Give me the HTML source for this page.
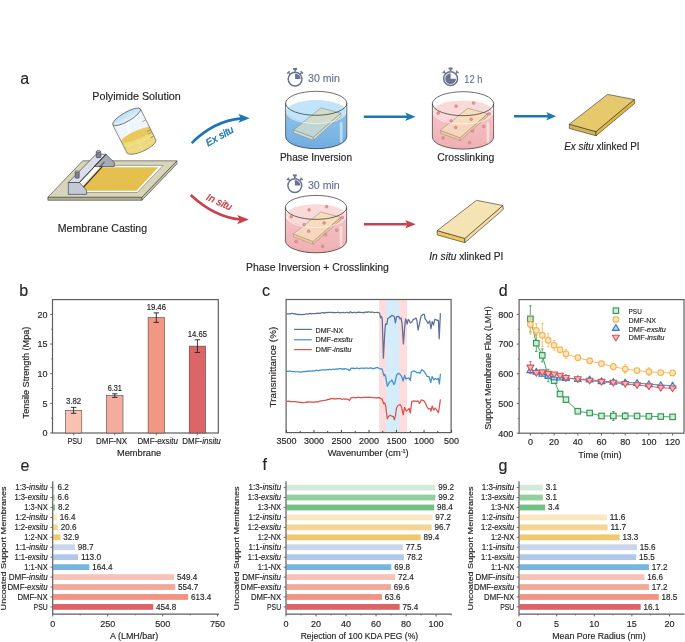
<!DOCTYPE html><html><head><meta charset="utf-8"><title>Figure</title><style>html,body{margin:0;padding:0;background:#fff;width:685px;height:642px;overflow:hidden}svg{display:block;will-change:transform}text{font-family:"Liberation Sans",sans-serif}</style></head><body>
<svg width="685" height="642" viewBox="0 0 685 642">
<rect width="685" height="642" fill="#fff"/>
<text x="20.30" y="83.60" font-size="16" text-anchor="start" fill="#262626" stroke="#262626" stroke-width="0.16" >a</text>
<text x="19.30" y="295.80" font-size="16" text-anchor="start" fill="#262626" stroke="#262626" stroke-width="0.16" >b</text>
<text x="262.00" y="296.00" font-size="16" text-anchor="start" fill="#262626" stroke="#262626" stroke-width="0.16" >c</text>
<text x="498.80" y="296.00" font-size="16" text-anchor="start" fill="#262626" stroke="#262626" stroke-width="0.16" >d</text>
<text x="20.50" y="470.80" font-size="16" text-anchor="start" fill="#262626" stroke="#262626" stroke-width="0.16" >e</text>
<text x="262.50" y="470.20" font-size="16" text-anchor="start" fill="#262626" stroke="#262626" stroke-width="0.16" >f</text>
<text x="498.60" y="470.50" font-size="16" text-anchor="start" fill="#262626" stroke="#262626" stroke-width="0.16" >g</text>
<g stroke="#3a3a3a" stroke-width="0.6" stroke-linejoin="round">
<polygon points="47.9,197.2 141.9,197.2 141.9,200.3 47.9,200.3" fill="#b3af92"/>
<polygon points="141.9,197.2 176.9,160.8 176.9,163.9 141.9,200.3" fill="#c4c0a3"/>
<polygon points="82.7,160.8 176.9,160.8 141.9,197.2 47.9,197.2" fill="#d8d5ba"/>
</g>
<polygon points="96,165.4 163.1,165.4 137.3,192.5 70,192.5" fill="#ffffff" stroke="#4a4a4a" stroke-width="0.45"/>
<polygon points="100.4,167.3 158.3,167.3 136.4,190.8 78.8,190.8" fill="#e6c04f"/>
<polygon points="79.4,182.5 106.0,154.3 106.6,161.2 81.6,188.7" fill="#ffffff"/>
<line x1="81.8" y1="187.2" x2="106.0" y2="160.8" stroke="#e6c04f" stroke-width="0.8"/>
<line x1="81.9" y1="188.9" x2="106.6" y2="161.9" stroke="#2e2e2e" stroke-width="1.25"/>
<g stroke="#2e2e2e" stroke-width="0.6" stroke-linejoin="round">
<polygon points="68.3,182.5 96.0,154.3 106.0,154.3 79.4,182.5" fill="#dcdfe9"/>
<polygon points="106.0,154.3 114.3,162.5 114.3,166.5 93.9,166.5" fill="#a6aab6"/>
<polygon points="68.3,182.5 79.4,182.5 86.6,190.3 86.6,194.4 68.3,194.4" fill="#c5c9d7"/>
</g>
<line x1="79.4" y1="182.5" x2="106.0" y2="154.3" stroke="#2e2e2e" stroke-width="0.95"/>
<line x1="99.5" y1="167.2" x2="104.6" y2="161.8" stroke="#3a3a3a" stroke-width="1.0"/>
<rect x="96.20" y="151.20" width="4.6" height="6.50" fill="#7b8191" stroke="#2e2e2e" stroke-width="0.5" rx="1.0"/>
<ellipse cx="98.5" cy="151.50" rx="2.20" ry="0.9" fill="#b3b8c5" stroke="#2e2e2e" stroke-width="0.4"/>
<rect x="75.15" y="171.40" width="4.1" height="6.80" fill="#7b8191" stroke="#2e2e2e" stroke-width="0.5" rx="1.0"/>
<ellipse cx="77.2" cy="171.70" rx="1.95" ry="0.9" fill="#b3b8c5" stroke="#2e2e2e" stroke-width="0.4"/>
<defs><clipPath id="bkc"><path d="M112.8,125.0 L127.1,153.1 C131,157.6 154.5,148.5 156.0,140.3 L140.4,108.7 Z"/></clipPath><linearGradient id="rimg" x1="0" y1="0" x2="0" y2="1"><stop offset="0" stop-color="#bcdcf2"/><stop offset="1" stop-color="#e4f1fa"/></linearGradient></defs>
<path d="M112.8,125.0 L127.1,153.1 C131,157.6 154.5,148.5 156.0,140.3 L140.4,108.7 Z" fill="#eef6fc"/>
<g clip-path="url(#bkc)">
<path d="M126.5,120 L133,152" stroke="#ffffff" stroke-width="3" opacity="0.8"/>
<g transform="translate(137.6,134.6) rotate(-23.5)">
<rect x="-25" y="0" width="50" height="30" fill="#eed87c"/>
<ellipse cx="0" cy="0" rx="17.5" ry="4.3" fill="#e8c95c"/>
<path d="M-17,4.5 A17.5,4.3 0 0 0 17,4.5" fill="none" stroke="#f5e6a6" stroke-width="0.7"/>
<path d="M-17,10 A17.5,4.3 0 0 0 17,10" fill="none" stroke="#f3e19c" stroke-width="0.6" opacity="0.8"/>
<path d="M-2,4.3 L-2,30" stroke="#f3e3a0" stroke-width="1.6" opacity="0.5"/>
</g>
</g>
<path d="M112.8,125.0 L127.1,153.1 C131,157.6 154.5,148.5 156.0,140.3 L140.4,108.7" fill="none" stroke="#3d3d3d" stroke-width="0.6"/>
<ellipse cx="126.6" cy="116.85" rx="15.9" ry="4.5" transform="rotate(-30 126.6 116.85)" fill="url(#rimg)" stroke="#3d3d3d" stroke-width="0.6"/>
<line x1="145.25" y1="120.11" x2="142.40" y2="121.76" stroke="#555" stroke-width="0.55"/>
<line x1="150.09" y1="129.91" x2="147.23" y2="131.56" stroke="#555" stroke-width="0.55"/>
<line x1="151.34" y1="132.43" x2="148.48" y2="134.08" stroke="#555" stroke-width="0.55"/>
<line x1="153.21" y1="136.23" x2="150.35" y2="137.88" stroke="#555" stroke-width="0.55"/>
<defs><linearGradient id="gblue316103" x1="0" y1="0" x2="0" y2="1"><stop offset="0" stop-color="#8cc3ea"/><stop offset="1" stop-color="#6aa6dc"/></linearGradient></defs>
<path d="M285.90,111.30 L285.90,136.70 A30.3,12 0 0 0 346.50,136.70 L346.50,111.30 Z" fill="url(#gblue316103)"/>
<ellipse cx="316.2" cy="111.30" rx="30.200000000000003" ry="11.2" fill="#c2e4f8"/>
<path d="M285.90,133.70 A30.3,12 0 0 0 346.50,133.70 L346.50,136.70 A30.3,12 0 0 1 285.90,136.70 Z" fill="#6aa6dc" opacity="0.9"/>
<polygon points="293.6,129.9 313.3,137.3 313.3,140.2 293.6,132.8" fill="#ece4bd" stroke="#555" stroke-width="0.35"/>
<polygon points="313.3,137.3 340.8,113.2 340.8,116.1 313.3,140.2" fill="#ece4bd" stroke="#555" stroke-width="0.35"/>
<polygon points="321.0,107.9 340.8,113.2 313.3,137.3 293.6,129.9" fill="#d3dbca" stroke="#555" stroke-width="0.35"/>
<path d="M285.90,111.30 A30.200000000000003,11.2 0 0 0 346.50,111.30 L346.50,136.70 A30.3,12 0 0 1 285.90,136.70 Z" fill="#8cc3ea" opacity="0.25"/>
<path d="M286.60,112.30 A29.6,11.2 0 0 0 345.80,112.30" fill="none" stroke="#fff" stroke-width="0.8" opacity="0.8"/>
<line x1="341.2" y1="123.3" x2="341.2" y2="141.2" stroke="#fff" stroke-width="2.8" opacity="0.5" stroke-linecap="round"/>
<path d="M285.60,103.30 L285.60,136.70 A30.6,12 0 0 0 346.80,136.70 L346.80,103.30" fill="none" stroke="#2e2e2e" stroke-width="0.7"/>
<ellipse cx="316.2" cy="103.3" rx="30.6" ry="12" fill="none" stroke="#2e2e2e" stroke-width="0.7"/>
<defs><linearGradient id="gpink463103" x1="0" y1="0" x2="0" y2="1"><stop offset="0" stop-color="#f5c3c5"/><stop offset="1" stop-color="#eeaaae"/></linearGradient></defs>
<path d="M432.70,111.70 L432.70,137.10 A30.3,12 0 0 0 493.30,137.10 L493.30,111.70 Z" fill="url(#gpink463103)"/>
<ellipse cx="463.0" cy="111.70" rx="30.200000000000003" ry="11.2" fill="#fad9d9"/>
<path d="M432.70,134.10 A30.3,12 0 0 0 493.30,134.10 L493.30,137.10 A30.3,12 0 0 1 432.70,137.10 Z" fill="#eeaaae" opacity="0.9"/>
<polygon points="440.4,130.3 460.1,137.7 460.1,140.6 440.4,133.2" fill="#efc88e" stroke="#555" stroke-width="0.35"/>
<polygon points="460.1,137.7 487.6,113.6 487.6,116.5 460.1,140.6" fill="#efc88e" stroke="#555" stroke-width="0.35"/>
<polygon points="467.8,108.3 487.6,113.6 460.1,137.7 440.4,130.3" fill="#f8ddbd" stroke="#555" stroke-width="0.35"/>
<path d="M432.70,111.70 A30.200000000000003,11.2 0 0 0 493.30,111.70 L493.30,137.10 A30.3,12 0 0 1 432.70,137.10 Z" fill="#f5c3c5" opacity="0.25"/>
<path d="M433.40,112.70 A29.6,11.2 0 0 0 492.60,112.70" fill="none" stroke="#fff" stroke-width="0.8" opacity="0.8"/>
<line x1="488.0" y1="123.7" x2="488.0" y2="141.6" stroke="#fff" stroke-width="2.8" opacity="0.5" stroke-linecap="round"/>
<circle cx="456.1" cy="106.2" r="1.4" fill="#e49b9b" stroke="#c76a6c" stroke-width="0.45"/>
<circle cx="473.6" cy="103.0" r="1.4" fill="#e49b9b" stroke="#c76a6c" stroke-width="0.45"/>
<circle cx="438.2" cy="113.2" r="1.4" fill="#e49b9b" stroke="#c76a6c" stroke-width="0.45"/>
<circle cx="489.3" cy="113.9" r="1.4" fill="#e49b9b" stroke="#c76a6c" stroke-width="0.45"/>
<circle cx="451.1" cy="120.9" r="1.4" fill="#e49b9b" stroke="#c76a6c" stroke-width="0.45"/>
<circle cx="471.1" cy="119.3" r="1.4" fill="#e49b9b" stroke="#c76a6c" stroke-width="0.45"/>
<circle cx="455.7" cy="127.5" r="1.4" fill="#e49b9b" stroke="#c76a6c" stroke-width="0.45"/>
<circle cx="483.7" cy="126.5" r="1.4" fill="#e49b9b" stroke="#c76a6c" stroke-width="0.45"/>
<circle cx="472.5" cy="131.0" r="1.4" fill="#e49b9b" stroke="#c76a6c" stroke-width="0.45"/>
<circle cx="443.1" cy="138.0" r="1.4" fill="#e49b9b" stroke="#c76a6c" stroke-width="0.45"/>
<circle cx="469.7" cy="142.6" r="1.4" fill="#e49b9b" stroke="#c76a6c" stroke-width="0.45"/>
<path d="M432.40,103.70 L432.40,137.10 A30.6,12 0 0 0 493.60,137.10 L493.60,103.70" fill="none" stroke="#2e2e2e" stroke-width="0.7"/>
<ellipse cx="463.0" cy="103.7" rx="30.6" ry="12" fill="none" stroke="#2e2e2e" stroke-width="0.7"/>
<defs><linearGradient id="gpink316207" x1="0" y1="0" x2="0" y2="1"><stop offset="0" stop-color="#f5c3c5"/><stop offset="1" stop-color="#eeaaae"/></linearGradient></defs>
<path d="M285.70,215.40 L285.70,240.80 A30.3,12 0 0 0 346.30,240.80 L346.30,215.40 Z" fill="url(#gpink316207)"/>
<ellipse cx="316.0" cy="215.40" rx="30.200000000000003" ry="11.2" fill="#fad9d9"/>
<path d="M285.70,237.80 A30.3,12 0 0 0 346.30,237.80 L346.30,240.80 A30.3,12 0 0 1 285.70,240.80 Z" fill="#eeaaae" opacity="0.9"/>
<polygon points="293.4,234.0 313.1,241.4 313.1,244.3 293.4,236.9" fill="#efc88e" stroke="#555" stroke-width="0.35"/>
<polygon points="313.1,241.4 340.6,217.3 340.6,220.2 313.1,244.3" fill="#efc88e" stroke="#555" stroke-width="0.35"/>
<polygon points="320.8,212.0 340.6,217.3 313.1,241.4 293.4,234.0" fill="#f8ddbd" stroke="#555" stroke-width="0.35"/>
<path d="M285.70,215.40 A30.200000000000003,11.2 0 0 0 346.30,215.40 L346.30,240.80 A30.3,12 0 0 1 285.70,240.80 Z" fill="#f5c3c5" opacity="0.25"/>
<path d="M286.40,216.40 A29.6,11.2 0 0 0 345.60,216.40" fill="none" stroke="#fff" stroke-width="0.8" opacity="0.8"/>
<line x1="341.0" y1="227.4" x2="341.0" y2="245.3" stroke="#fff" stroke-width="2.8" opacity="0.5" stroke-linecap="round"/>
<circle cx="309.1" cy="209.9" r="1.4" fill="#e49b9b" stroke="#c76a6c" stroke-width="0.45"/>
<circle cx="326.6" cy="206.7" r="1.4" fill="#e49b9b" stroke="#c76a6c" stroke-width="0.45"/>
<circle cx="291.2" cy="216.9" r="1.4" fill="#e49b9b" stroke="#c76a6c" stroke-width="0.45"/>
<circle cx="342.3" cy="217.6" r="1.4" fill="#e49b9b" stroke="#c76a6c" stroke-width="0.45"/>
<circle cx="304.1" cy="224.6" r="1.4" fill="#e49b9b" stroke="#c76a6c" stroke-width="0.45"/>
<circle cx="324.1" cy="223.0" r="1.4" fill="#e49b9b" stroke="#c76a6c" stroke-width="0.45"/>
<circle cx="308.7" cy="231.2" r="1.4" fill="#e49b9b" stroke="#c76a6c" stroke-width="0.45"/>
<circle cx="336.7" cy="230.2" r="1.4" fill="#e49b9b" stroke="#c76a6c" stroke-width="0.45"/>
<circle cx="325.5" cy="234.7" r="1.4" fill="#e49b9b" stroke="#c76a6c" stroke-width="0.45"/>
<circle cx="296.1" cy="241.7" r="1.4" fill="#e49b9b" stroke="#c76a6c" stroke-width="0.45"/>
<circle cx="322.7" cy="246.3" r="1.4" fill="#e49b9b" stroke="#c76a6c" stroke-width="0.45"/>
<path d="M285.40,207.40 L285.40,240.80 A30.6,12 0 0 0 346.60,240.80 L346.60,207.40" fill="none" stroke="#2e2e2e" stroke-width="0.7"/>
<ellipse cx="316.0" cy="207.4" rx="30.6" ry="12" fill="none" stroke="#2e2e2e" stroke-width="0.7"/>
<g>
<circle cx="295.1" cy="79.1" r="6.9" fill="none" stroke="#69738f" stroke-width="1.5"/>
<path d="M295.1,79.1 L295.1,73.6 A5.5,5.5 0 0 1 300.6,79.1 Z" fill="#69738f"/>
<rect x="293.1" y="67.89999999999999" width="4.0" height="2.0" fill="#69738f"/>
<rect x="294.3" y="69.5" width="1.6" height="2.2" fill="#69738f"/>
<line x1="290.20000000000005" y1="74.19999999999999" x2="288.3" y2="72.3" stroke="#69738f" stroke-width="1.4"/>
<line x1="289.5" y1="71.1" x2="287.1" y2="73.5" stroke="#69738f" stroke-width="1.2"/>
<line x1="300.0" y1="74.19999999999999" x2="301.90000000000003" y2="72.3" stroke="#69738f" stroke-width="1.4"/>
<line x1="300.70000000000005" y1="71.1" x2="303.1" y2="73.5" stroke="#69738f" stroke-width="1.2"/>
</g>
<g>
<circle cx="294.8" cy="185.6" r="6.9" fill="none" stroke="#69738f" stroke-width="1.5"/>
<path d="M294.8,185.6 L294.8,180.1 A5.5,5.5 0 0 1 300.3,185.6 Z" fill="#69738f"/>
<rect x="292.8" y="174.4" width="4.0" height="2.0" fill="#69738f"/>
<rect x="294.0" y="176.0" width="1.6" height="2.2" fill="#69738f"/>
<line x1="289.90000000000003" y1="180.7" x2="288.0" y2="178.79999999999998" stroke="#69738f" stroke-width="1.4"/>
<line x1="289.2" y1="177.6" x2="286.8" y2="180.0" stroke="#69738f" stroke-width="1.2"/>
<line x1="299.7" y1="180.7" x2="301.6" y2="178.79999999999998" stroke="#69738f" stroke-width="1.4"/>
<line x1="300.40000000000003" y1="177.6" x2="302.8" y2="180.0" stroke="#69738f" stroke-width="1.2"/>
</g>
<g>
<circle cx="450.6" cy="78.7" r="6.9" fill="none" stroke="#69738f" stroke-width="1.5"/>
<path d="M450.6,78.7 L456.0,78.7 A5.4,5.4 0 1 1 450.6,73.3 Z" fill="#69738f"/>
<rect x="448.6" y="67.5" width="4.0" height="2.0" fill="#69738f"/>
<rect x="449.8" y="69.10000000000001" width="1.6" height="2.2" fill="#69738f"/>
<line x1="445.70000000000005" y1="73.8" x2="443.8" y2="71.9" stroke="#69738f" stroke-width="1.4"/>
<line x1="445.0" y1="70.7" x2="442.6" y2="73.10000000000001" stroke="#69738f" stroke-width="1.2"/>
<line x1="455.5" y1="73.8" x2="457.40000000000003" y2="71.9" stroke="#69738f" stroke-width="1.4"/>
<line x1="456.20000000000005" y1="70.7" x2="458.6" y2="73.10000000000001" stroke="#69738f" stroke-width="1.2"/>
</g>
<text x="308.00" y="82.00" font-size="10.7" text-anchor="start" fill="#69738f" stroke="#69738f" stroke-width="0.16" textLength="31.9" lengthAdjust="spacingAndGlyphs" >30 min</text>
<text x="307.90" y="188.50" font-size="10.7" text-anchor="start" fill="#69738f" stroke="#69738f" stroke-width="0.16" textLength="31.9" lengthAdjust="spacingAndGlyphs" >30 min</text>
<text x="464.30" y="82.60" font-size="10.7" text-anchor="start" fill="#69738f" stroke="#69738f" stroke-width="0.16" textLength="18.0" lengthAdjust="spacingAndGlyphs" >12 h</text>
<g stroke="#2e2e2e" stroke-width="0.6" stroke-linejoin="round">
<polygon points="569.3,124.2 596.0,131.6 596.0,135.79999999999998 569.3,128.4" fill="#d6b456"/>
<polygon points="596.0,131.6 634.3,99.5 634.9,103.28 596.0,135.79999999999998" fill="#e0b540"/>
<polygon points="569.3,124.2 607.6,94.4 634.3,99.5 596.0,131.6" fill="#e6c96c"/>
</g>
<g stroke="#2e2e2e" stroke-width="0.6" stroke-linejoin="round">
<polygon points="437.2,230.6 464.8,238.4 464.8,242.70000000000002 437.2,234.9" fill="#efc65c"/>
<polygon points="464.8,238.4 502.8,205.5 503.40000000000003,209.37 464.8,242.70000000000002" fill="#f3dc9e"/>
<polygon points="437.2,230.6 476.5,200.3 502.8,205.5 464.8,238.4" fill="#f6e3b3"/>
</g>
<path d="M191.7,143.1 Q213.6,121.0 241.5,118.4" fill="none" stroke="#1f76b6" stroke-width="2.6"/>
<polygon points="249.8,118.3 238.4,113.8 240.9,118.3 238.4,122.8" fill="#1f76b6"/>
<path d="M190.7,195.0 Q214.6,217.2 240.5,219.5" fill="none" stroke="#c8414b" stroke-width="2.6"/>
<polygon points="248.9,219.6 237.2,214.9 239.8,219.6 237.2,224.29999999999998" fill="#c8414b"/>
<line x1="363.8" y1="116.7" x2="409" y2="116.7" stroke="#1f76b6" stroke-width="2.6"/>
<polygon points="415.5,116.7 405.2,112.4 407.5,116.7 405.2,121.0" fill="#1f76b6"/>
<line x1="514" y1="116.2" x2="549.5" y2="116.2" stroke="#1f76b6" stroke-width="2.6"/>
<polygon points="556.1,116.2 546.3,111.9 548.5,116.2 546.3,120.5" fill="#1f76b6"/>
<line x1="363.9" y1="224.3" x2="409" y2="224.3" stroke="#c8414b" stroke-width="2.6"/>
<polygon points="415.7,224.3 405.2,220.0 407.5,224.3 405.2,228.60000000000002" fill="#c8414b"/>
<text x="0" y="0" font-size="10.1" font-style="italic" fill="#1f76b6" stroke="#1f76b6" stroke-width="0.42" transform="translate(208.0,146.4) rotate(-29)">Ex situ</text>
<text x="0" y="0" font-size="10.1" font-style="italic" fill="#c8414b" stroke="#c8414b" stroke-width="0.42" transform="translate(205.6,199.4) rotate(24.5)">In situ</text>
<text x="92.30" y="100.30" font-size="10.2" text-anchor="start" fill="#262626" stroke="#262626" stroke-width="0.16" textLength="88.5" lengthAdjust="spacingAndGlyphs" >Polyimide Solution</text>
<text x="57.80" y="231.90" font-size="10.2" text-anchor="start" fill="#262626" stroke="#262626" stroke-width="0.16" textLength="89.3" lengthAdjust="spacingAndGlyphs" >Membrane Casting</text>
<text x="279.90" y="161.00" font-size="10.0" text-anchor="start" fill="#262626" stroke="#262626" stroke-width="0.16" textLength="72.1" lengthAdjust="spacingAndGlyphs" >Phase Inversion</text>
<text x="437.30" y="160.90" font-size="10.0" text-anchor="start" fill="#262626" stroke="#262626" stroke-width="0.16" textLength="57.1" lengthAdjust="spacingAndGlyphs" >Crosslinking</text>
<text x="246.00" y="271.40" font-size="10.0" text-anchor="start" fill="#262626" stroke="#262626" stroke-width="0.16" textLength="142.9" lengthAdjust="spacingAndGlyphs" >Phase Inversion + Crosslinking</text>
<text x="564.2" y="150.4" font-size="10" fill="#262626" stroke="#262626" stroke-width="0.16" textLength="75.3" lengthAdjust="spacingAndGlyphs"><tspan font-style="italic">Ex situ</tspan> xlinked PI</text>
<text x="429.3" y="259.9" font-size="10" fill="#262626" stroke="#262626" stroke-width="0.16" textLength="74" lengthAdjust="spacingAndGlyphs"><tspan font-style="italic">In situ</tspan> xlinked PI</text>
<rect x="52.5" y="299.6" width="165.8" height="133.4" fill="none" stroke="#5f5f5f" stroke-width="1.2"/>
<line x1="50.2" y1="433.00" x2="52.5" y2="433.00" stroke="#5f5f5f" stroke-width="1"/>
<text x="47.60" y="436.20" font-size="9.0" text-anchor="end" fill="#262626" stroke="#262626" stroke-width="0.16" >0</text>
<line x1="50.2" y1="403.35" x2="52.5" y2="403.35" stroke="#5f5f5f" stroke-width="1"/>
<text x="47.60" y="406.55" font-size="9.0" text-anchor="end" fill="#262626" stroke="#262626" stroke-width="0.16" >5</text>
<line x1="50.2" y1="373.70" x2="52.5" y2="373.70" stroke="#5f5f5f" stroke-width="1"/>
<text x="47.60" y="376.90" font-size="9.0" text-anchor="end" fill="#262626" stroke="#262626" stroke-width="0.16" >10</text>
<line x1="50.2" y1="344.05" x2="52.5" y2="344.05" stroke="#5f5f5f" stroke-width="1"/>
<text x="47.60" y="347.25" font-size="9.0" text-anchor="end" fill="#262626" stroke="#262626" stroke-width="0.16" >15</text>
<line x1="50.2" y1="314.40" x2="52.5" y2="314.40" stroke="#5f5f5f" stroke-width="1"/>
<text x="47.60" y="317.60" font-size="9.0" text-anchor="end" fill="#262626" stroke="#262626" stroke-width="0.16" >20</text>
<line x1="51.2" y1="418.18" x2="52.5" y2="418.18" stroke="#5f5f5f" stroke-width="0.9"/>
<line x1="51.2" y1="388.52" x2="52.5" y2="388.52" stroke="#5f5f5f" stroke-width="0.9"/>
<line x1="51.2" y1="358.88" x2="52.5" y2="358.88" stroke="#5f5f5f" stroke-width="0.9"/>
<line x1="51.2" y1="329.23" x2="52.5" y2="329.23" stroke="#5f5f5f" stroke-width="0.9"/>
<rect x="65.4" y="410.35" width="16.4" height="22.65" fill="#f8c2b3" stroke="#4a4a4a" stroke-width="0.6"/>
<path d="M73.6,407.38V413.31M70.89999999999999,407.38H76.3M70.89999999999999,413.31H76.3" stroke="#222" stroke-width="0.9" fill="none"/>
<text x="73.60" y="404.48" font-size="8.2" text-anchor="middle" fill="#262626" stroke="#262626" stroke-width="0.16" textLength="15.3" lengthAdjust="spacingAndGlyphs" >3.82</text>
<line x1="73.6" y1="433" x2="73.6" y2="435.3" stroke="#5f5f5f" stroke-width="0.9"/>
<text x="74.85" y="443.60" font-size="8.4" text-anchor="middle" fill="#262626" stroke="#262626" stroke-width="0.16" textLength="14.9" lengthAdjust="spacingAndGlyphs" >PSU</text>
<rect x="106.6" y="395.58" width="16.4" height="37.42" fill="#f4ad9c" stroke="#4a4a4a" stroke-width="0.6"/>
<path d="M114.8,393.80V397.36M112.1,393.80H117.5M112.1,397.36H117.5" stroke="#222" stroke-width="0.9" fill="none"/>
<text x="114.80" y="390.90" font-size="8.2" text-anchor="middle" fill="#262626" stroke="#262626" stroke-width="0.16" textLength="14.3" lengthAdjust="spacingAndGlyphs" >6.31</text>
<line x1="114.8" y1="433" x2="114.8" y2="435.3" stroke="#5f5f5f" stroke-width="0.9"/>
<text x="111.50" y="443.60" font-size="8.4" text-anchor="middle" fill="#262626" stroke="#262626" stroke-width="0.16" textLength="31.0" lengthAdjust="spacingAndGlyphs" >DMF-NX</text>
<rect x="148.1" y="317.60" width="16.4" height="115.40" fill="#f29784" stroke="#4a4a4a" stroke-width="0.6"/>
<path d="M156.3,312.86V322.35M153.60000000000002,312.86H159.0M153.60000000000002,322.35H159.0" stroke="#222" stroke-width="0.9" fill="none"/>
<text x="156.30" y="309.96" font-size="8.2" text-anchor="middle" fill="#262626" stroke="#262626" stroke-width="0.16" textLength="19.3" lengthAdjust="spacingAndGlyphs" >19.46</text>
<line x1="156.3" y1="433" x2="156.3" y2="435.3" stroke="#5f5f5f" stroke-width="0.9"/>
<text x="157.60" y="443.60" font-size="8.4" text-anchor="middle" fill="#262626" stroke="#262626" stroke-width="0.16" textLength="40.4" lengthAdjust="spacingAndGlyphs" >DMF-<tspan font-style="italic">exsitu</tspan></text>
<rect x="189.2" y="346.13" width="16.4" height="86.87" fill="#dc6667" stroke="#4a4a4a" stroke-width="0.6"/>
<path d="M197.4,339.78V352.47M194.70000000000002,339.78H200.1M194.70000000000002,352.47H200.1" stroke="#222" stroke-width="0.9" fill="none"/>
<text x="197.40" y="336.88" font-size="8.2" text-anchor="middle" fill="#262626" stroke="#262626" stroke-width="0.16" textLength="19.3" lengthAdjust="spacingAndGlyphs" >14.65</text>
<line x1="197.4" y1="433" x2="197.4" y2="435.3" stroke="#5f5f5f" stroke-width="0.9"/>
<text x="201.55" y="443.60" font-size="8.4" text-anchor="middle" fill="#262626" stroke="#262626" stroke-width="0.16" textLength="38.5" lengthAdjust="spacingAndGlyphs" >DMF-<tspan font-style="italic">insitu</tspan></text>
<text x="139.10" y="456.00" font-size="9.0" text-anchor="middle" fill="#262626" stroke="#262626" stroke-width="0.16" textLength="44.2" lengthAdjust="spacingAndGlyphs" >Membrane</text>
<text x="0" y="0" font-size="9.0" fill="#262626" stroke="#262626" stroke-width="0.16" text-anchor="middle" textLength="91.8" lengthAdjust="spacingAndGlyphs" transform="translate(29.0,372.5) rotate(-90)">Tensile Strength (Mpa)</text>
<rect x="379.1" y="299.5" width="6.9" height="133.10000000000002" fill="#fcdcdc"/>
<rect x="386.0" y="299.5" width="13.0" height="133.10000000000002" fill="#d5ecfa"/>
<rect x="399.0" y="299.5" width="8.0" height="133.10000000000002" fill="#fcdcdc"/>
<polyline points="286.50,313.82 287.50,313.96 288.50,313.78 289.50,313.87 290.50,313.82 291.50,313.36 292.50,313.26 293.44,313.96 294.38,313.68 295.31,313.79 296.25,314.45 297.19,314.20 298.12,314.59 299.06,314.46 300.00,314.70 300.93,314.28 301.86,314.54 302.79,314.62 303.71,314.30 304.64,314.38 305.57,314.25 306.50,313.74 307.43,314.15 308.36,313.96 309.29,313.68 310.21,313.41 311.14,313.91 312.07,313.56 313.00,313.65 313.94,313.71 314.87,313.53 315.81,313.61 316.74,313.19 317.68,313.41 318.61,313.10 319.55,313.38 320.48,313.29 321.42,312.68 322.35,312.65 323.28,312.64 324.22,313.11 325.15,312.68 326.09,312.75 327.02,312.46 327.96,312.55 328.89,312.40 329.83,312.32 330.76,312.42 331.70,312.36 332.61,312.60 333.52,312.46 334.43,312.65 335.34,312.61 336.25,312.72 337.16,312.51 338.07,312.17 338.98,312.68 339.89,312.77 340.81,312.74 341.72,312.52 342.63,312.64 343.54,312.30 344.45,312.75 345.36,312.59 346.27,312.40 347.18,312.26 348.09,312.83 349.00,312.94 350.40,311.71 352.00,312.81 352.90,312.52 353.80,312.31 354.70,312.39 355.60,312.70 356.50,312.76 357.40,312.15 358.30,312.53 359.20,312.11 360.10,312.56 361.00,312.27 361.90,312.64 362.80,312.68 363.70,312.33 364.60,312.65 365.50,312.15 366.40,311.97 367.30,312.31 368.20,311.89 369.10,311.99 370.08,312.19 371.07,312.38 372.05,312.11 373.03,312.08 374.02,312.71 375.00,312.50 378.10,312.30 379.60,313.30 380.60,317.90 381.30,316.40 382.20,318.40 383.40,358.20 384.70,333.70 385.50,324.00 386.80,324.30 387.80,318.40 389.30,317.40 390.30,316.90 391.90,315.30 393.40,315.80 394.40,316.90 395.40,323.00 396.50,316.90 398.00,316.40 399.00,316.90 400.00,318.90 401.10,317.90 402.10,324.00 403.40,343.90 404.60,327.60 405.70,318.90 407.20,324.00 408.20,319.40 409.20,320.40 410.30,323.00 411.80,322.00 413.30,319.40 414.90,318.90 415.90,317.90 416.90,320.40 418.10,330.10 419.50,323.50 421.00,316.40 423.00,314.30 424.30,314.30 425.10,318.90 426.60,320.90 428.10,323.50 429.70,320.90 431.00,328.60 432.20,321.50 433.50,325.00 434.80,319.40 436.30,319.90 437.50,320.40 438.40,320.40 439.20,338.80 440.40,313.30" fill="none" stroke="#5d7098" stroke-width="1.25" stroke-linejoin="round"/>
<polyline points="286.50,370.87 287.40,371.39 288.30,371.41 289.20,371.11 290.10,371.24 291.00,371.35 291.90,371.50 292.80,371.53 293.70,371.57 294.60,371.68 295.50,371.98 296.40,371.74 297.30,371.75 298.20,372.02 299.10,371.75 300.00,371.86 300.93,372.26 301.87,371.86 302.80,371.80 303.73,371.34 304.67,371.54 305.60,371.58 306.53,371.11 307.47,371.45 308.40,371.38 309.33,370.90 310.27,371.22 311.20,371.03 312.13,371.10 313.07,370.79 314.00,370.96 314.93,370.90 315.87,370.32 316.80,370.27 317.73,370.62 318.67,370.74 319.60,370.16 320.53,370.23 321.47,370.24 322.40,369.97 323.33,369.94 324.26,369.84 325.19,369.81 326.12,369.91 327.05,369.64 327.98,369.62 328.91,369.84 329.84,369.25 330.77,369.56 331.70,369.61 332.63,369.25 333.56,369.13 334.49,369.47 335.42,369.01 336.35,368.91 337.28,369.01 338.21,369.13 339.14,368.65 340.07,368.74 341.00,368.68 342.00,369.06 343.00,368.81 344.00,369.13 345.00,368.68 346.00,368.83 347.00,369.08 348.00,369.27 349.50,370.67 351.00,368.21 351.90,368.12 352.81,368.40 353.72,368.15 354.62,368.57 355.52,368.59 356.43,368.12 357.34,368.18 358.24,368.54 359.14,368.41 360.05,368.51 360.96,368.18 361.86,368.02 362.76,368.12 363.67,368.47 364.58,368.09 365.48,368.13 366.38,368.17 367.29,368.16 368.20,368.15 369.10,368.49 370.08,367.96 371.07,367.85 372.05,368.51 373.03,368.47 374.02,368.54 375.00,368.20 377.60,367.40 379.60,368.70 382.20,369.20 383.20,373.30 384.00,375.80 384.70,374.30 385.70,376.90 387.30,386.10 388.30,384.50 389.30,382.00 390.80,381.50 391.90,379.90 392.90,382.00 393.90,384.50 394.90,383.00 396.50,375.30 398.50,373.30 400.00,374.30 401.60,376.40 403.10,381.00 404.60,375.30 405.70,378.90 407.20,378.40 408.70,377.90 410.30,380.40 411.30,372.30 412.80,371.20 414.90,371.20 416.90,372.80 418.40,372.30 420.00,373.30 421.80,369.70 423.50,370.70 425.60,373.80 427.10,376.40 429.20,376.90 430.70,382.50 432.20,376.40 433.80,379.90 435.30,378.40 436.80,379.40 438.40,378.40 439.40,384.00 440.40,373.80" fill="none" stroke="#3f90cf" stroke-width="1.25" stroke-linejoin="round"/>
<polyline points="286.50,400.95 287.40,401.41 288.30,401.49 289.20,401.09 290.10,401.55 291.00,401.70 291.90,401.67 292.80,401.67 293.70,401.60 294.60,401.73 295.50,401.74 296.40,401.72 297.30,402.18 298.20,402.06 299.10,402.52 300.00,402.08 300.93,402.65 301.87,402.48 302.80,402.61 303.73,402.57 304.67,402.54 305.60,402.29 306.53,401.86 307.47,402.35 308.40,401.92 309.33,401.98 310.27,402.21 311.20,402.08 312.13,401.98 313.07,402.32 314.00,402.06 314.93,401.84 315.87,401.75 316.80,402.15 317.73,401.68 318.66,401.70 319.59,401.20 320.52,400.89 321.46,400.92 322.39,400.92 323.32,400.27 324.25,400.50 325.18,400.40 326.11,400.11 327.04,399.93 327.98,399.16 328.91,399.39 329.84,399.35 330.77,398.58 331.70,398.54 332.61,398.57 333.51,398.77 334.42,398.73 335.32,398.79 336.23,399.03 337.13,398.52 338.04,398.58 338.94,398.66 339.85,398.69 340.76,398.68 341.66,399.34 342.57,399.28 343.47,398.77 344.38,399.09 345.28,398.99 346.19,399.01 347.09,399.07 348.00,399.30 349.50,400.56 351.00,397.70 351.90,397.55 352.81,397.62 353.72,397.45 354.62,397.72 355.52,397.80 356.43,397.54 357.34,397.30 358.24,397.33 359.14,397.44 360.05,397.57 360.96,397.67 361.86,397.36 362.76,397.62 363.67,397.47 364.58,397.30 365.48,397.23 366.38,397.29 367.29,397.40 368.20,397.17 369.10,397.34 370.08,397.27 371.07,397.22 372.05,397.53 373.03,397.74 374.02,397.40 375.00,397.80 379.10,397.60 382.20,399.30 383.70,403.90 384.70,402.90 385.70,406.00 387.30,418.80 388.80,416.20 390.30,415.20 391.90,416.20 393.40,416.70 394.40,419.80 395.40,416.20 396.50,408.00 398.00,405.50 400.00,404.50 401.60,407.00 403.10,414.70 404.60,407.50 406.20,411.10 407.70,410.10 409.20,408.50 410.30,413.10 411.80,401.40 413.80,400.90 415.90,401.40 417.90,400.90 419.50,403.40 421.50,399.90 424.00,400.90 425.60,403.40 427.10,407.00 428.60,409.00 430.20,408.50 431.00,411.10 432.20,406.00 433.80,410.10 435.30,408.00 436.80,410.10 438.40,412.60 439.20,408.00 440.40,399.30" fill="none" stroke="#d8524f" stroke-width="1.25" stroke-linejoin="round"/>
<rect x="286.1" y="299.5" width="165.0" height="133.1" fill="none" stroke="#5f5f5f" stroke-width="1.2"/>
<line x1="451.61" y1="432.6" x2="451.61" y2="429.90000000000003" stroke="#444" stroke-width="1.0"/>
<line x1="437.84" y1="432.6" x2="437.84" y2="430.90000000000003" stroke="#444" stroke-width="1.0"/>
<line x1="424.07" y1="432.6" x2="424.07" y2="429.90000000000003" stroke="#444" stroke-width="1.0"/>
<line x1="410.31" y1="432.6" x2="410.31" y2="430.90000000000003" stroke="#444" stroke-width="1.0"/>
<line x1="396.54" y1="432.6" x2="396.54" y2="429.90000000000003" stroke="#444" stroke-width="1.0"/>
<line x1="382.77" y1="432.6" x2="382.77" y2="430.90000000000003" stroke="#444" stroke-width="1.0"/>
<line x1="369.00" y1="432.6" x2="369.00" y2="429.90000000000003" stroke="#444" stroke-width="1.0"/>
<line x1="355.24" y1="432.6" x2="355.24" y2="430.90000000000003" stroke="#444" stroke-width="1.0"/>
<line x1="341.47" y1="432.6" x2="341.47" y2="429.90000000000003" stroke="#444" stroke-width="1.0"/>
<line x1="327.70" y1="432.6" x2="327.70" y2="430.90000000000003" stroke="#444" stroke-width="1.0"/>
<line x1="313.94" y1="432.6" x2="313.94" y2="429.90000000000003" stroke="#444" stroke-width="1.0"/>
<line x1="300.17" y1="432.6" x2="300.17" y2="430.90000000000003" stroke="#444" stroke-width="1.0"/>
<line x1="286.40" y1="432.6" x2="286.40" y2="429.90000000000003" stroke="#444" stroke-width="1.0"/>
<text x="451.61" y="443.60" font-size="9.0" text-anchor="middle" fill="#262626" stroke="#262626" stroke-width="0.16" >500</text>
<text x="424.07" y="443.60" font-size="9.0" text-anchor="middle" fill="#262626" stroke="#262626" stroke-width="0.16" >1000</text>
<text x="396.54" y="443.60" font-size="9.0" text-anchor="middle" fill="#262626" stroke="#262626" stroke-width="0.16" >1500</text>
<text x="369.00" y="443.60" font-size="9.0" text-anchor="middle" fill="#262626" stroke="#262626" stroke-width="0.16" >2000</text>
<text x="341.47" y="443.60" font-size="9.0" text-anchor="middle" fill="#262626" stroke="#262626" stroke-width="0.16" >2500</text>
<text x="313.94" y="443.60" font-size="9.0" text-anchor="middle" fill="#262626" stroke="#262626" stroke-width="0.16" >3000</text>
<text x="286.40" y="443.60" font-size="9.0" text-anchor="middle" fill="#262626" stroke="#262626" stroke-width="0.16" >3500</text>
<line x1="294.1" y1="329.4" x2="311.8" y2="329.4" stroke="#5d7098" stroke-width="1.2"/>
<text x="315.60" y="332.50" font-size="7.6" text-anchor="start" fill="#262626" stroke="#262626" stroke-width="0.16" textLength="27.6" lengthAdjust="spacingAndGlyphs" >DMF-NX</text>
<line x1="294.1" y1="339.8" x2="311.8" y2="339.8" stroke="#3f90cf" stroke-width="1.2"/>
<text x="315.60" y="342.40" font-size="7.6" text-anchor="start" fill="#262626" stroke="#262626" stroke-width="0.16" textLength="37.0" lengthAdjust="spacingAndGlyphs" >DMF-<tspan font-style="italic">exsitu</tspan></text>
<line x1="294.1" y1="349.6" x2="311.8" y2="349.6" stroke="#d8524f" stroke-width="1.2"/>
<text x="315.60" y="352.10" font-size="7.6" text-anchor="start" fill="#262626" stroke="#262626" stroke-width="0.16" textLength="35.8" lengthAdjust="spacingAndGlyphs" >DMF-<tspan font-style="italic">insitu</tspan></text>
<text x="0" y="0" font-size="8.7" fill="#262626" stroke="#262626" stroke-width="0.16" text-anchor="middle" textLength="80.7" lengthAdjust="spacingAndGlyphs" transform="translate(275.7,367.05) rotate(-90)">Transmittance (%)</text>
<text x="368.2" y="456.3" font-size="9.3" fill="#262626" stroke="#262626" stroke-width="0.16" text-anchor="middle">Wavenumber (cm<tspan font-size="5.5" dy="-3.5">-1</tspan><tspan dy="3.5">)</tspan></text>
<rect x="519.1" y="299.6" width="164.9" height="133.6" fill="none" stroke="#5f5f5f" stroke-width="1.2"/>
<line x1="516.8000000000001" y1="433.20" x2="519.1" y2="433.20" stroke="#5f5f5f" stroke-width="1"/>
<text x="513.30" y="436.50" font-size="9.0" text-anchor="end" fill="#262626" stroke="#262626" stroke-width="0.16" >400</text>
<line x1="516.8000000000001" y1="403.50" x2="519.1" y2="403.50" stroke="#5f5f5f" stroke-width="1"/>
<text x="513.30" y="406.80" font-size="9.0" text-anchor="end" fill="#262626" stroke="#262626" stroke-width="0.16" >500</text>
<line x1="516.8000000000001" y1="373.80" x2="519.1" y2="373.80" stroke="#5f5f5f" stroke-width="1"/>
<text x="513.30" y="377.10" font-size="9.0" text-anchor="end" fill="#262626" stroke="#262626" stroke-width="0.16" >600</text>
<line x1="516.8000000000001" y1="344.10" x2="519.1" y2="344.10" stroke="#5f5f5f" stroke-width="1"/>
<text x="513.30" y="347.40" font-size="9.0" text-anchor="end" fill="#262626" stroke="#262626" stroke-width="0.16" >700</text>
<line x1="516.8000000000001" y1="314.40" x2="519.1" y2="314.40" stroke="#5f5f5f" stroke-width="1"/>
<text x="513.30" y="317.70" font-size="9.0" text-anchor="end" fill="#262626" stroke="#262626" stroke-width="0.16" >800</text>
<line x1="517.8000000000001" y1="418.35" x2="519.1" y2="418.35" stroke="#5f5f5f" stroke-width="0.9"/>
<line x1="517.8000000000001" y1="388.65" x2="519.1" y2="388.65" stroke="#5f5f5f" stroke-width="0.9"/>
<line x1="517.8000000000001" y1="358.95" x2="519.1" y2="358.95" stroke="#5f5f5f" stroke-width="0.9"/>
<line x1="517.8000000000001" y1="329.25" x2="519.1" y2="329.25" stroke="#5f5f5f" stroke-width="0.9"/>
<line x1="530.40" y1="433.2" x2="530.40" y2="435.5" stroke="#5f5f5f" stroke-width="1"/>
<text x="530.40" y="444.90" font-size="9.0" text-anchor="middle" fill="#262626" stroke="#262626" stroke-width="0.16" >0</text>
<line x1="554.10" y1="433.2" x2="554.10" y2="435.5" stroke="#5f5f5f" stroke-width="1"/>
<text x="554.10" y="444.90" font-size="9.0" text-anchor="middle" fill="#262626" stroke="#262626" stroke-width="0.16" >20</text>
<line x1="577.80" y1="433.2" x2="577.80" y2="435.5" stroke="#5f5f5f" stroke-width="1"/>
<text x="577.80" y="444.90" font-size="9.0" text-anchor="middle" fill="#262626" stroke="#262626" stroke-width="0.16" >40</text>
<line x1="601.50" y1="433.2" x2="601.50" y2="435.5" stroke="#5f5f5f" stroke-width="1"/>
<text x="601.50" y="444.90" font-size="9.0" text-anchor="middle" fill="#262626" stroke="#262626" stroke-width="0.16" >60</text>
<line x1="625.20" y1="433.2" x2="625.20" y2="435.5" stroke="#5f5f5f" stroke-width="1"/>
<text x="625.20" y="444.90" font-size="9.0" text-anchor="middle" fill="#262626" stroke="#262626" stroke-width="0.16" >80</text>
<line x1="648.90" y1="433.2" x2="648.90" y2="435.5" stroke="#5f5f5f" stroke-width="1"/>
<text x="648.90" y="444.90" font-size="9.0" text-anchor="middle" fill="#262626" stroke="#262626" stroke-width="0.16" >100</text>
<line x1="672.60" y1="433.2" x2="672.60" y2="435.5" stroke="#5f5f5f" stroke-width="1"/>
<text x="672.60" y="444.90" font-size="9.0" text-anchor="middle" fill="#262626" stroke="#262626" stroke-width="0.16" >120</text>
<line x1="542.25" y1="433.2" x2="542.25" y2="434.5" stroke="#5f5f5f" stroke-width="0.9"/>
<line x1="565.95" y1="433.2" x2="565.95" y2="434.5" stroke="#5f5f5f" stroke-width="0.9"/>
<line x1="589.65" y1="433.2" x2="589.65" y2="434.5" stroke="#5f5f5f" stroke-width="0.9"/>
<line x1="613.35" y1="433.2" x2="613.35" y2="434.5" stroke="#5f5f5f" stroke-width="0.9"/>
<line x1="637.05" y1="433.2" x2="637.05" y2="434.5" stroke="#5f5f5f" stroke-width="0.9"/>
<line x1="660.75" y1="433.2" x2="660.75" y2="434.5" stroke="#5f5f5f" stroke-width="0.9"/>
<text x="599.95" y="457.50" font-size="9.2" text-anchor="middle" fill="#262626" stroke="#262626" stroke-width="0.16" textLength="43.3" lengthAdjust="spacingAndGlyphs" >Time (min)</text>
<text x="0" y="0" font-size="8.8" fill="#262626" stroke="#262626" stroke-width="0.16" text-anchor="middle" textLength="123.6" lengthAdjust="spacingAndGlyphs" transform="translate(491.0,368.0) rotate(-90)">Support Membrane Flux (LMH)</text>
<polyline points="530.40,318.86 536.32,343.21 542.25,355.39 548.17,375.58 554.10,380.63 560.02,394.00 565.95,399.64 577.80,411.22 589.65,413.00 601.50,415.97 613.35,415.97 625.20,415.97 637.05,415.97 648.90,416.27 660.75,416.57 672.60,416.87" fill="none" stroke="#2f9a54" stroke-width="0.9"/>
<path d="M530.40,305.79V331.92M529.10,305.79h2.6M529.10,331.92h2.6" stroke="#2f9a54" stroke-width="0.8" fill="none"/>
<path d="M536.32,334.89V351.52M535.02,334.89h2.6M535.02,351.52h2.6" stroke="#2f9a54" stroke-width="0.8" fill="none"/>
<path d="M542.25,348.85V361.92M540.95,348.85h2.6M540.95,361.92h2.6" stroke="#2f9a54" stroke-width="0.8" fill="none"/>
<path d="M548.17,369.34V381.82M546.88,369.34h2.6M546.88,381.82h2.6" stroke="#2f9a54" stroke-width="0.8" fill="none"/>
<path d="M554.10,379.44V381.82M552.80,379.44h2.6M552.80,381.82h2.6" stroke="#2f9a54" stroke-width="0.8" fill="none"/>
<path d="M560.02,392.51V395.48M558.73,392.51h2.6M558.73,395.48h2.6" stroke="#2f9a54" stroke-width="0.8" fill="none"/>
<path d="M565.95,398.45V400.83M564.65,398.45h2.6M564.65,400.83h2.6" stroke="#2f9a54" stroke-width="0.8" fill="none"/>
<path d="M577.80,410.33V412.11M576.50,410.33h2.6M576.50,412.11h2.6" stroke="#2f9a54" stroke-width="0.8" fill="none"/>
<path d="M589.65,412.11V413.89M588.35,412.11h2.6M588.35,413.89h2.6" stroke="#2f9a54" stroke-width="0.8" fill="none"/>
<path d="M601.50,415.08V416.87M600.20,415.08h2.6M600.20,416.87h2.6" stroke="#2f9a54" stroke-width="0.8" fill="none"/>
<path d="M613.35,411.52V420.43M612.05,411.52h2.6M612.05,420.43h2.6" stroke="#2f9a54" stroke-width="0.8" fill="none"/>
<path d="M625.20,412.71V419.24M623.90,412.71h2.6M623.90,419.24h2.6" stroke="#2f9a54" stroke-width="0.8" fill="none"/>
<path d="M637.05,414.79V417.16M635.75,414.79h2.6M635.75,417.16h2.6" stroke="#2f9a54" stroke-width="0.8" fill="none"/>
<path d="M648.90,415.68V416.87M647.60,415.68h2.6M647.60,416.87h2.6" stroke="#2f9a54" stroke-width="0.8" fill="none"/>
<path d="M660.75,415.97V417.16M659.45,415.97h2.6M659.45,417.16h2.6" stroke="#2f9a54" stroke-width="0.8" fill="none"/>
<path d="M672.60,416.27V417.46M671.30,416.27h2.6M671.30,417.46h2.6" stroke="#2f9a54" stroke-width="0.8" fill="none"/>
<rect x="527.65" y="316.11" width="5.5" height="5.5" fill="#d6e8da" stroke="#2f9a54" stroke-width="1.15"/>
<rect x="533.57" y="340.46" width="5.5" height="5.5" fill="#d6e8da" stroke="#2f9a54" stroke-width="1.15"/>
<rect x="539.50" y="352.64" width="5.5" height="5.5" fill="#d6e8da" stroke="#2f9a54" stroke-width="1.15"/>
<rect x="545.42" y="372.83" width="5.5" height="5.5" fill="#d6e8da" stroke="#2f9a54" stroke-width="1.15"/>
<rect x="551.35" y="377.88" width="5.5" height="5.5" fill="#d6e8da" stroke="#2f9a54" stroke-width="1.15"/>
<rect x="557.27" y="391.25" width="5.5" height="5.5" fill="#d6e8da" stroke="#2f9a54" stroke-width="1.15"/>
<rect x="563.20" y="396.89" width="5.5" height="5.5" fill="#d6e8da" stroke="#2f9a54" stroke-width="1.15"/>
<rect x="575.05" y="408.47" width="5.5" height="5.5" fill="#d6e8da" stroke="#2f9a54" stroke-width="1.15"/>
<rect x="586.90" y="410.25" width="5.5" height="5.5" fill="#d6e8da" stroke="#2f9a54" stroke-width="1.15"/>
<rect x="598.75" y="413.22" width="5.5" height="5.5" fill="#d6e8da" stroke="#2f9a54" stroke-width="1.15"/>
<rect x="610.60" y="413.22" width="5.5" height="5.5" fill="#d6e8da" stroke="#2f9a54" stroke-width="1.15"/>
<rect x="622.45" y="413.22" width="5.5" height="5.5" fill="#d6e8da" stroke="#2f9a54" stroke-width="1.15"/>
<rect x="634.30" y="413.22" width="5.5" height="5.5" fill="#d6e8da" stroke="#2f9a54" stroke-width="1.15"/>
<rect x="646.15" y="413.52" width="5.5" height="5.5" fill="#d6e8da" stroke="#2f9a54" stroke-width="1.15"/>
<rect x="658.00" y="413.82" width="5.5" height="5.5" fill="#d6e8da" stroke="#2f9a54" stroke-width="1.15"/>
<rect x="669.85" y="414.12" width="5.5" height="5.5" fill="#d6e8da" stroke="#2f9a54" stroke-width="1.15"/>
<polyline points="530.40,324.50 536.32,330.44 542.25,335.19 548.17,340.24 554.10,345.29 560.02,349.74 565.95,353.90 577.80,357.76 589.65,360.73 601.50,363.70 613.35,366.67 625.20,369.05 637.05,370.53 648.90,371.72 660.75,372.61 672.60,372.91" fill="none" stroke="#f4b44e" stroke-width="0.9"/>
<path d="M530.40,314.99V334.00M529.10,314.99h2.6M529.10,334.00h2.6" stroke="#f4b44e" stroke-width="0.8" fill="none"/>
<path d="M536.32,323.61V337.27M535.02,323.61h2.6M535.02,337.27h2.6" stroke="#f4b44e" stroke-width="0.8" fill="none"/>
<path d="M542.25,323.61V346.77M540.95,323.61h2.6M540.95,346.77h2.6" stroke="#f4b44e" stroke-width="0.8" fill="none"/>
<path d="M548.17,333.70V346.77M546.88,333.70h2.6M546.88,346.77h2.6" stroke="#f4b44e" stroke-width="0.8" fill="none"/>
<path d="M554.10,340.54V350.04M552.80,340.54h2.6M552.80,350.04h2.6" stroke="#f4b44e" stroke-width="0.8" fill="none"/>
<path d="M560.02,348.85V350.63M558.73,348.85h2.6M558.73,350.63h2.6" stroke="#f4b44e" stroke-width="0.8" fill="none"/>
<path d="M565.95,349.45V358.36M564.65,349.45h2.6M564.65,358.36h2.6" stroke="#f4b44e" stroke-width="0.8" fill="none"/>
<path d="M577.80,356.87V358.65M576.50,356.87h2.6M576.50,358.65h2.6" stroke="#f4b44e" stroke-width="0.8" fill="none"/>
<path d="M589.65,359.54V361.92M588.35,359.54h2.6M588.35,361.92h2.6" stroke="#f4b44e" stroke-width="0.8" fill="none"/>
<path d="M601.50,362.81V364.59M600.20,362.81h2.6M600.20,364.59h2.6" stroke="#f4b44e" stroke-width="0.8" fill="none"/>
<path d="M613.35,363.40V369.94M612.05,363.40h2.6M612.05,369.94h2.6" stroke="#f4b44e" stroke-width="0.8" fill="none"/>
<path d="M625.20,364.89V373.21M623.90,364.89h2.6M623.90,373.21h2.6" stroke="#f4b44e" stroke-width="0.8" fill="none"/>
<path d="M637.05,369.34V371.72M635.75,369.34h2.6M635.75,371.72h2.6" stroke="#f4b44e" stroke-width="0.8" fill="none"/>
<path d="M648.90,367.86V375.58M647.60,367.86h2.6M647.60,375.58h2.6" stroke="#f4b44e" stroke-width="0.8" fill="none"/>
<path d="M660.75,371.72V373.50M659.45,371.72h2.6M659.45,373.50h2.6" stroke="#f4b44e" stroke-width="0.8" fill="none"/>
<path d="M672.60,372.02V373.80M671.30,372.02h2.6M671.30,373.80h2.6" stroke="#f4b44e" stroke-width="0.8" fill="none"/>
<circle cx="530.40" cy="324.50" r="2.85" fill="#fbe5c0" stroke="#f4b44e" stroke-width="1.1"/>
<circle cx="536.32" cy="330.44" r="2.85" fill="#fbe5c0" stroke="#f4b44e" stroke-width="1.1"/>
<circle cx="542.25" cy="335.19" r="2.85" fill="#fbe5c0" stroke="#f4b44e" stroke-width="1.1"/>
<circle cx="548.17" cy="340.24" r="2.85" fill="#fbe5c0" stroke="#f4b44e" stroke-width="1.1"/>
<circle cx="554.10" cy="345.29" r="2.85" fill="#fbe5c0" stroke="#f4b44e" stroke-width="1.1"/>
<circle cx="560.02" cy="349.74" r="2.85" fill="#fbe5c0" stroke="#f4b44e" stroke-width="1.1"/>
<circle cx="565.95" cy="353.90" r="2.85" fill="#fbe5c0" stroke="#f4b44e" stroke-width="1.1"/>
<circle cx="577.80" cy="357.76" r="2.85" fill="#fbe5c0" stroke="#f4b44e" stroke-width="1.1"/>
<circle cx="589.65" cy="360.73" r="2.85" fill="#fbe5c0" stroke="#f4b44e" stroke-width="1.1"/>
<circle cx="601.50" cy="363.70" r="2.85" fill="#fbe5c0" stroke="#f4b44e" stroke-width="1.1"/>
<circle cx="613.35" cy="366.67" r="2.85" fill="#fbe5c0" stroke="#f4b44e" stroke-width="1.1"/>
<circle cx="625.20" cy="369.05" r="2.85" fill="#fbe5c0" stroke="#f4b44e" stroke-width="1.1"/>
<circle cx="637.05" cy="370.53" r="2.85" fill="#fbe5c0" stroke="#f4b44e" stroke-width="1.1"/>
<circle cx="648.90" cy="371.72" r="2.85" fill="#fbe5c0" stroke="#f4b44e" stroke-width="1.1"/>
<circle cx="660.75" cy="372.61" r="2.85" fill="#fbe5c0" stroke="#f4b44e" stroke-width="1.1"/>
<circle cx="672.60" cy="372.91" r="2.85" fill="#fbe5c0" stroke="#f4b44e" stroke-width="1.1"/>
<polyline points="530.40,370.24 536.32,371.72 542.25,373.80 548.17,375.58 554.10,377.36 560.02,377.66 565.95,377.96 577.80,379.15 589.65,379.44 601.50,381.23 613.35,381.82 625.20,382.41 637.05,383.01 648.90,384.19 660.75,385.09 672.60,385.68" fill="none" stroke="#2f7fc5" stroke-width="0.9"/>
<path d="M530.40,368.45V372.02M529.10,368.45h2.6M529.10,372.02h2.6" stroke="#2f7fc5" stroke-width="0.8" fill="none"/>
<path d="M536.32,370.53V372.91M535.02,370.53h2.6M535.02,372.91h2.6" stroke="#2f7fc5" stroke-width="0.8" fill="none"/>
<path d="M542.25,372.61V374.99M540.95,372.61h2.6M540.95,374.99h2.6" stroke="#2f7fc5" stroke-width="0.8" fill="none"/>
<path d="M548.17,374.69V376.47M546.88,374.69h2.6M546.88,376.47h2.6" stroke="#2f7fc5" stroke-width="0.8" fill="none"/>
<path d="M554.10,376.47V378.25M552.80,376.47h2.6M552.80,378.25h2.6" stroke="#2f7fc5" stroke-width="0.8" fill="none"/>
<path d="M560.02,376.77V378.55M558.73,376.77h2.6M558.73,378.55h2.6" stroke="#2f7fc5" stroke-width="0.8" fill="none"/>
<path d="M565.95,377.36V378.55M564.65,377.36h2.6M564.65,378.55h2.6" stroke="#2f7fc5" stroke-width="0.8" fill="none"/>
<path d="M577.80,378.55V379.74M576.50,378.55h2.6M576.50,379.74h2.6" stroke="#2f7fc5" stroke-width="0.8" fill="none"/>
<path d="M589.65,378.85V380.04M588.35,378.85h2.6M588.35,380.04h2.6" stroke="#2f7fc5" stroke-width="0.8" fill="none"/>
<path d="M601.50,380.63V381.82M600.20,380.63h2.6M600.20,381.82h2.6" stroke="#2f7fc5" stroke-width="0.8" fill="none"/>
<path d="M613.35,381.23V382.41M612.05,381.23h2.6M612.05,382.41h2.6" stroke="#2f7fc5" stroke-width="0.8" fill="none"/>
<path d="M625.20,381.82V383.01M623.90,381.82h2.6M623.90,383.01h2.6" stroke="#2f7fc5" stroke-width="0.8" fill="none"/>
<path d="M637.05,382.41V383.60M635.75,382.41h2.6M635.75,383.60h2.6" stroke="#2f7fc5" stroke-width="0.8" fill="none"/>
<path d="M648.90,383.60V384.79M647.60,383.60h2.6M647.60,384.79h2.6" stroke="#2f7fc5" stroke-width="0.8" fill="none"/>
<path d="M660.75,384.49V385.68M659.45,384.49h2.6M659.45,385.68h2.6" stroke="#2f7fc5" stroke-width="0.8" fill="none"/>
<path d="M672.60,385.09V386.27M671.30,385.09h2.6M671.30,386.27h2.6" stroke="#2f7fc5" stroke-width="0.8" fill="none"/>
<polygon points="530.40,366.84 533.90,372.64 526.90,372.64" fill="#c3d4ea" stroke="#2f7fc5" stroke-width="1.1" stroke-linejoin="round"/>
<polygon points="536.32,368.32 539.82,374.12 532.82,374.12" fill="#c3d4ea" stroke="#2f7fc5" stroke-width="1.1" stroke-linejoin="round"/>
<polygon points="542.25,370.40 545.75,376.20 538.75,376.20" fill="#c3d4ea" stroke="#2f7fc5" stroke-width="1.1" stroke-linejoin="round"/>
<polygon points="548.17,372.18 551.67,377.98 544.67,377.98" fill="#c3d4ea" stroke="#2f7fc5" stroke-width="1.1" stroke-linejoin="round"/>
<polygon points="554.10,373.96 557.60,379.76 550.60,379.76" fill="#c3d4ea" stroke="#2f7fc5" stroke-width="1.1" stroke-linejoin="round"/>
<polygon points="560.02,374.26 563.52,380.06 556.52,380.06" fill="#c3d4ea" stroke="#2f7fc5" stroke-width="1.1" stroke-linejoin="round"/>
<polygon points="565.95,374.56 569.45,380.36 562.45,380.36" fill="#c3d4ea" stroke="#2f7fc5" stroke-width="1.1" stroke-linejoin="round"/>
<polygon points="577.80,375.75 581.30,381.55 574.30,381.55" fill="#c3d4ea" stroke="#2f7fc5" stroke-width="1.1" stroke-linejoin="round"/>
<polygon points="589.65,376.04 593.15,381.84 586.15,381.84" fill="#c3d4ea" stroke="#2f7fc5" stroke-width="1.1" stroke-linejoin="round"/>
<polygon points="601.50,377.83 605.00,383.62 598.00,383.62" fill="#c3d4ea" stroke="#2f7fc5" stroke-width="1.1" stroke-linejoin="round"/>
<polygon points="613.35,378.42 616.85,384.22 609.85,384.22" fill="#c3d4ea" stroke="#2f7fc5" stroke-width="1.1" stroke-linejoin="round"/>
<polygon points="625.20,379.01 628.70,384.81 621.70,384.81" fill="#c3d4ea" stroke="#2f7fc5" stroke-width="1.1" stroke-linejoin="round"/>
<polygon points="637.05,379.61 640.55,385.41 633.55,385.41" fill="#c3d4ea" stroke="#2f7fc5" stroke-width="1.1" stroke-linejoin="round"/>
<polygon points="648.90,380.80 652.40,386.59 645.40,386.59" fill="#c3d4ea" stroke="#2f7fc5" stroke-width="1.1" stroke-linejoin="round"/>
<polygon points="660.75,381.69 664.25,387.49 657.25,387.49" fill="#c3d4ea" stroke="#2f7fc5" stroke-width="1.1" stroke-linejoin="round"/>
<polygon points="672.60,382.28 676.10,388.08 669.10,388.08" fill="#c3d4ea" stroke="#2f7fc5" stroke-width="1.1" stroke-linejoin="round"/>
<polyline points="530.40,367.56 536.32,372.91 542.25,372.31 548.17,373.80 554.10,374.39 560.02,375.58 565.95,377.96 577.80,379.15 589.65,380.63 601.50,381.82 613.35,382.71 625.20,383.90 637.05,385.09 648.90,386.27 660.75,387.76 672.60,388.35" fill="none" stroke="#d6545b" stroke-width="0.9"/>
<path d="M530.40,361.62V373.50M529.10,361.62h2.6M529.10,373.50h2.6" stroke="#d6545b" stroke-width="0.8" fill="none"/>
<path d="M536.32,371.13V374.69M535.02,371.13h2.6M535.02,374.69h2.6" stroke="#d6545b" stroke-width="0.8" fill="none"/>
<path d="M542.25,371.13V373.50M540.95,371.13h2.6M540.95,373.50h2.6" stroke="#d6545b" stroke-width="0.8" fill="none"/>
<path d="M548.17,372.91V374.69M546.88,372.91h2.6M546.88,374.69h2.6" stroke="#d6545b" stroke-width="0.8" fill="none"/>
<path d="M554.10,373.50V375.28M552.80,373.50h2.6M552.80,375.28h2.6" stroke="#d6545b" stroke-width="0.8" fill="none"/>
<path d="M560.02,374.69V376.47M558.73,374.69h2.6M558.73,376.47h2.6" stroke="#d6545b" stroke-width="0.8" fill="none"/>
<path d="M565.95,377.36V378.55M564.65,377.36h2.6M564.65,378.55h2.6" stroke="#d6545b" stroke-width="0.8" fill="none"/>
<path d="M577.80,378.55V379.74M576.50,378.55h2.6M576.50,379.74h2.6" stroke="#d6545b" stroke-width="0.8" fill="none"/>
<path d="M589.65,380.04V381.23M588.35,380.04h2.6M588.35,381.23h2.6" stroke="#d6545b" stroke-width="0.8" fill="none"/>
<path d="M601.50,381.23V382.41M600.20,381.23h2.6M600.20,382.41h2.6" stroke="#d6545b" stroke-width="0.8" fill="none"/>
<path d="M613.35,382.12V383.30M612.05,382.12h2.6M612.05,383.30h2.6" stroke="#d6545b" stroke-width="0.8" fill="none"/>
<path d="M625.20,383.30V384.49M623.90,383.30h2.6M623.90,384.49h2.6" stroke="#d6545b" stroke-width="0.8" fill="none"/>
<path d="M637.05,384.49V385.68M635.75,384.49h2.6M635.75,385.68h2.6" stroke="#d6545b" stroke-width="0.8" fill="none"/>
<path d="M648.90,385.68V386.87M647.60,385.68h2.6M647.60,386.87h2.6" stroke="#d6545b" stroke-width="0.8" fill="none"/>
<path d="M660.75,387.16V388.35M659.45,387.16h2.6M659.45,388.35h2.6" stroke="#d6545b" stroke-width="0.8" fill="none"/>
<path d="M672.60,387.76V388.95M671.30,387.76h2.6M671.30,388.95h2.6" stroke="#d6545b" stroke-width="0.8" fill="none"/>
<polygon points="530.40,370.96 533.90,365.16 526.90,365.16" fill="#efb9bc" stroke="#d6545b" stroke-width="1.1" stroke-linejoin="round"/>
<polygon points="536.32,376.31 539.82,370.51 532.82,370.51" fill="#efb9bc" stroke="#d6545b" stroke-width="1.1" stroke-linejoin="round"/>
<polygon points="542.25,375.71 545.75,369.92 538.75,369.92" fill="#efb9bc" stroke="#d6545b" stroke-width="1.1" stroke-linejoin="round"/>
<polygon points="548.17,377.20 551.67,371.40 544.67,371.40" fill="#efb9bc" stroke="#d6545b" stroke-width="1.1" stroke-linejoin="round"/>
<polygon points="554.10,377.79 557.60,371.99 550.60,371.99" fill="#efb9bc" stroke="#d6545b" stroke-width="1.1" stroke-linejoin="round"/>
<polygon points="560.02,378.98 563.52,373.18 556.52,373.18" fill="#efb9bc" stroke="#d6545b" stroke-width="1.1" stroke-linejoin="round"/>
<polygon points="565.95,381.36 569.45,375.56 562.45,375.56" fill="#efb9bc" stroke="#d6545b" stroke-width="1.1" stroke-linejoin="round"/>
<polygon points="577.80,382.55 581.30,376.75 574.30,376.75" fill="#efb9bc" stroke="#d6545b" stroke-width="1.1" stroke-linejoin="round"/>
<polygon points="589.65,384.03 593.15,378.23 586.15,378.23" fill="#efb9bc" stroke="#d6545b" stroke-width="1.1" stroke-linejoin="round"/>
<polygon points="601.50,385.22 605.00,379.42 598.00,379.42" fill="#efb9bc" stroke="#d6545b" stroke-width="1.1" stroke-linejoin="round"/>
<polygon points="613.35,386.11 616.85,380.31 609.85,380.31" fill="#efb9bc" stroke="#d6545b" stroke-width="1.1" stroke-linejoin="round"/>
<polygon points="625.20,387.30 628.70,381.50 621.70,381.50" fill="#efb9bc" stroke="#d6545b" stroke-width="1.1" stroke-linejoin="round"/>
<polygon points="637.05,388.49 640.55,382.69 633.55,382.69" fill="#efb9bc" stroke="#d6545b" stroke-width="1.1" stroke-linejoin="round"/>
<polygon points="648.90,389.67 652.40,383.87 645.40,383.87" fill="#efb9bc" stroke="#d6545b" stroke-width="1.1" stroke-linejoin="round"/>
<polygon points="660.75,391.16 664.25,385.36 657.25,385.36" fill="#efb9bc" stroke="#d6545b" stroke-width="1.1" stroke-linejoin="round"/>
<polygon points="672.60,391.75 676.10,385.95 669.10,385.95" fill="#efb9bc" stroke="#d6545b" stroke-width="1.1" stroke-linejoin="round"/>
<rect x="613.15" y="307.95" width="5.5" height="5.5" fill="#d6e8da" stroke="#2f9a54" stroke-width="1.15"/>
<text x="628.60" y="313.50" font-size="7.6" text-anchor="start" fill="#262626" stroke="#262626" stroke-width="0.16" textLength="13.2" lengthAdjust="spacingAndGlyphs" >PSU</text>
<circle cx="615.90" cy="319.50" r="2.85" fill="#fbe5c0" stroke="#f4b44e" stroke-width="1.1"/>
<text x="628.60" y="322.80" font-size="7.6" text-anchor="start" fill="#262626" stroke="#262626" stroke-width="0.16" textLength="27.5" lengthAdjust="spacingAndGlyphs" >DMF-NX</text>
<polygon points="615.90,324.60 619.40,330.40 612.40,330.40" fill="#c3d4ea" stroke="#2f7fc5" stroke-width="1.1" stroke-linejoin="round"/>
<text x="628.60" y="331.50" font-size="7.6" text-anchor="start" fill="#262626" stroke="#262626" stroke-width="0.16" textLength="37.3" lengthAdjust="spacingAndGlyphs" >DMF-<tspan font-style="italic">exsitu</tspan></text>
<polygon points="615.90,341.00 619.40,335.20 612.40,335.20" fill="#efb9bc" stroke="#d6545b" stroke-width="1.1" stroke-linejoin="round"/>
<text x="628.60" y="340.40" font-size="7.6" text-anchor="start" fill="#262626" stroke="#262626" stroke-width="0.16" textLength="35.9" lengthAdjust="spacingAndGlyphs" >DMF-<tspan font-style="italic">insitu</tspan></text>
<rect x="53.2" y="484.70" width="1.36" height="5.8" fill="#d3ead9"/>
<text x="57.46" y="490.30" font-size="8.6" text-anchor="start" fill="#262626" stroke="#262626" stroke-width="0.16" textLength="11.26" lengthAdjust="spacingAndGlyphs" >6.2</text>
<text x="47.70" y="490.30" font-size="8.8" text-anchor="end" fill="#262626" stroke="#262626" stroke-width="0.16" textLength="32.5" lengthAdjust="spacingAndGlyphs" >1:3-<tspan font-style="italic">insitu</tspan></text>
<line x1="50.400000000000006" y1="487.60" x2="52.7" y2="487.60" stroke="#5f5f5f" stroke-width="0.9"/>
<rect x="53.2" y="494.64" width="1.45" height="5.8" fill="#93ce9f"/>
<text x="57.55" y="500.24" font-size="8.6" text-anchor="start" fill="#262626" stroke="#262626" stroke-width="0.16" textLength="11.26" lengthAdjust="spacingAndGlyphs" >6.6</text>
<text x="47.70" y="500.24" font-size="8.8" text-anchor="end" fill="#262626" stroke="#262626" stroke-width="0.16" textLength="33.3" lengthAdjust="spacingAndGlyphs" >1:3-<tspan font-style="italic">exsitu</tspan></text>
<line x1="50.400000000000006" y1="497.54" x2="52.7" y2="497.54" stroke="#5f5f5f" stroke-width="0.9"/>
<rect x="53.2" y="504.58" width="1.80" height="5.8" fill="#70c182"/>
<text x="57.90" y="510.18" font-size="8.6" text-anchor="start" fill="#262626" stroke="#262626" stroke-width="0.16" textLength="11.26" lengthAdjust="spacingAndGlyphs" >8.2</text>
<text x="47.70" y="510.18" font-size="8.8" text-anchor="end" fill="#262626" stroke="#262626" stroke-width="0.16" textLength="23.4" lengthAdjust="spacingAndGlyphs" >1:3-NX</text>
<line x1="50.400000000000006" y1="507.48" x2="52.7" y2="507.48" stroke="#5f5f5f" stroke-width="0.9"/>
<rect x="53.2" y="514.53" width="3.61" height="5.8" fill="#fbe8c3"/>
<text x="59.71" y="520.13" font-size="8.6" text-anchor="start" fill="#262626" stroke="#262626" stroke-width="0.16" textLength="15.76" lengthAdjust="spacingAndGlyphs" >16.4</text>
<text x="47.70" y="520.13" font-size="8.8" text-anchor="end" fill="#262626" stroke="#262626" stroke-width="0.16" textLength="32.5" lengthAdjust="spacingAndGlyphs" >1:2-<tspan font-style="italic">insitu</tspan></text>
<line x1="50.400000000000006" y1="517.43" x2="52.7" y2="517.43" stroke="#5f5f5f" stroke-width="0.9"/>
<rect x="53.2" y="524.47" width="4.53" height="5.8" fill="#f4d591"/>
<text x="60.63" y="530.07" font-size="8.6" text-anchor="start" fill="#262626" stroke="#262626" stroke-width="0.16" textLength="15.76" lengthAdjust="spacingAndGlyphs" >20.6</text>
<text x="47.70" y="530.07" font-size="8.8" text-anchor="end" fill="#262626" stroke="#262626" stroke-width="0.16" textLength="33.3" lengthAdjust="spacingAndGlyphs" >1:2-<tspan font-style="italic">exsitu</tspan></text>
<line x1="50.400000000000006" y1="527.37" x2="52.7" y2="527.37" stroke="#5f5f5f" stroke-width="0.9"/>
<rect x="53.2" y="534.41" width="7.23" height="5.8" fill="#efc96d"/>
<text x="63.33" y="540.01" font-size="8.6" text-anchor="start" fill="#262626" stroke="#262626" stroke-width="0.16" textLength="15.76" lengthAdjust="spacingAndGlyphs" >32.9</text>
<text x="47.70" y="540.01" font-size="8.8" text-anchor="end" fill="#262626" stroke="#262626" stroke-width="0.16" textLength="23.4" lengthAdjust="spacingAndGlyphs" >1:2-NX</text>
<line x1="50.400000000000006" y1="537.31" x2="52.7" y2="537.31" stroke="#5f5f5f" stroke-width="0.9"/>
<rect x="53.2" y="544.35" width="21.70" height="5.8" fill="#c9d5e8"/>
<text x="77.80" y="549.95" font-size="8.6" text-anchor="start" fill="#262626" stroke="#262626" stroke-width="0.16" textLength="15.76" lengthAdjust="spacingAndGlyphs" >98.7</text>
<text x="47.70" y="549.95" font-size="8.8" text-anchor="end" fill="#262626" stroke="#262626" stroke-width="0.16" textLength="32.5" lengthAdjust="spacingAndGlyphs" >1:1-<tspan font-style="italic">insitu</tspan></text>
<line x1="50.400000000000006" y1="547.25" x2="52.7" y2="547.25" stroke="#5f5f5f" stroke-width="0.9"/>
<rect x="53.2" y="554.29" width="24.85" height="5.8" fill="#afc9e6"/>
<text x="80.95" y="559.89" font-size="8.6" text-anchor="start" fill="#262626" stroke="#262626" stroke-width="0.16" textLength="20.27" lengthAdjust="spacingAndGlyphs" >113.0</text>
<text x="47.70" y="559.89" font-size="8.8" text-anchor="end" fill="#262626" stroke="#262626" stroke-width="0.16" textLength="33.3" lengthAdjust="spacingAndGlyphs" >1:1-<tspan font-style="italic">exsitu</tspan></text>
<line x1="50.400000000000006" y1="557.19" x2="52.7" y2="557.19" stroke="#5f5f5f" stroke-width="0.9"/>
<rect x="53.2" y="564.24" width="36.15" height="5.8" fill="#76b4e2"/>
<text x="92.25" y="569.84" font-size="8.6" text-anchor="start" fill="#262626" stroke="#262626" stroke-width="0.16" textLength="20.27" lengthAdjust="spacingAndGlyphs" >164.4</text>
<text x="47.70" y="569.84" font-size="8.8" text-anchor="end" fill="#262626" stroke="#262626" stroke-width="0.16" textLength="23.4" lengthAdjust="spacingAndGlyphs" >1:1-NX</text>
<line x1="50.400000000000006" y1="567.14" x2="52.7" y2="567.14" stroke="#5f5f5f" stroke-width="0.9"/>
<rect x="53.2" y="574.18" width="120.81" height="5.8" fill="#f8c3b6"/>
<text x="176.91" y="579.78" font-size="8.6" text-anchor="start" fill="#262626" stroke="#262626" stroke-width="0.16" textLength="20.27" lengthAdjust="spacingAndGlyphs" >549.4</text>
<text x="47.70" y="579.78" font-size="8.8" text-anchor="end" fill="#262626" stroke="#262626" stroke-width="0.16" textLength="38.9" lengthAdjust="spacingAndGlyphs" >DMF-<tspan font-style="italic">insitu</tspan></text>
<line x1="50.400000000000006" y1="577.08" x2="52.7" y2="577.08" stroke="#5f5f5f" stroke-width="0.9"/>
<rect x="53.2" y="584.12" width="121.98" height="5.8" fill="#f4a897"/>
<text x="178.08" y="589.72" font-size="8.6" text-anchor="start" fill="#262626" stroke="#262626" stroke-width="0.16" textLength="20.27" lengthAdjust="spacingAndGlyphs" >554.7</text>
<text x="47.70" y="589.72" font-size="8.8" text-anchor="end" fill="#262626" stroke="#262626" stroke-width="0.16" textLength="40.3" lengthAdjust="spacingAndGlyphs" >DMF-<tspan font-style="italic">exsitu</tspan></text>
<line x1="50.400000000000006" y1="587.02" x2="52.7" y2="587.02" stroke="#5f5f5f" stroke-width="0.9"/>
<rect x="53.2" y="594.06" width="134.89" height="5.8" fill="#f29381"/>
<text x="190.99" y="599.66" font-size="8.6" text-anchor="start" fill="#262626" stroke="#262626" stroke-width="0.16" textLength="20.27" lengthAdjust="spacingAndGlyphs" >613.4</text>
<text x="47.70" y="599.66" font-size="8.8" text-anchor="end" fill="#262626" stroke="#262626" stroke-width="0.16" textLength="30.2" lengthAdjust="spacingAndGlyphs" >DMF-NX</text>
<line x1="50.400000000000006" y1="596.96" x2="52.7" y2="596.96" stroke="#5f5f5f" stroke-width="0.9"/>
<rect x="53.2" y="604.00" width="100.01" height="5.8" fill="#dc6466"/>
<text x="156.11" y="609.60" font-size="8.6" text-anchor="start" fill="#262626" stroke="#262626" stroke-width="0.16" textLength="20.27" lengthAdjust="spacingAndGlyphs" >454.8</text>
<text x="47.70" y="609.60" font-size="8.8" text-anchor="end" fill="#262626" stroke="#262626" stroke-width="0.16" textLength="14.1" lengthAdjust="spacingAndGlyphs" >PSU</text>
<line x1="50.400000000000006" y1="606.90" x2="52.7" y2="606.90" stroke="#5f5f5f" stroke-width="0.9"/>
<path d="M52.7,481.2V614.1H219.0" fill="none" stroke="#5f5f5f" stroke-width="1.2"/>
<line x1="52.70" y1="614.1" x2="52.70" y2="616.4" stroke="#5f5f5f" stroke-width="1"/>
<text x="52.70" y="626.90" font-size="9.0" text-anchor="middle" fill="#262626" stroke="#262626" stroke-width="0.16" >0</text>
<line x1="107.68" y1="614.1" x2="107.68" y2="616.4" stroke="#5f5f5f" stroke-width="1"/>
<text x="107.68" y="626.90" font-size="9.0" text-anchor="middle" fill="#262626" stroke="#262626" stroke-width="0.16" >250</text>
<line x1="162.65" y1="614.1" x2="162.65" y2="616.4" stroke="#5f5f5f" stroke-width="1"/>
<text x="162.65" y="626.90" font-size="9.0" text-anchor="middle" fill="#262626" stroke="#262626" stroke-width="0.16" >500</text>
<line x1="217.62" y1="614.1" x2="217.62" y2="616.4" stroke="#5f5f5f" stroke-width="1"/>
<text x="217.62" y="626.90" font-size="9.0" text-anchor="middle" fill="#262626" stroke="#262626" stroke-width="0.16" >750</text>
<line x1="80.19" y1="614.1" x2="80.19" y2="615.4" stroke="#5f5f5f" stroke-width="0.9"/>
<line x1="135.16" y1="614.1" x2="135.16" y2="615.4" stroke="#5f5f5f" stroke-width="0.9"/>
<line x1="190.14" y1="614.1" x2="190.14" y2="615.4" stroke="#5f5f5f" stroke-width="0.9"/>
<text x="110.0" y="638.6" font-size="9.0" fill="#262626" stroke="#262626" stroke-width="0.16" textLength="48.2" lengthAdjust="spacingAndGlyphs">A (LMH/bar)</text>
<text x="0" y="0" font-size="8.0" fill="#262626" stroke="#262626" stroke-width="0.16" text-anchor="middle" textLength="124.1" lengthAdjust="spacingAndGlyphs" transform="translate(5.5,548.4) rotate(-90)">Uncoated Support Membranes</text>
<rect x="286.5" y="484.70" width="148.90" height="5.8" fill="#d3ead9"/>
<text x="438.30" y="490.30" font-size="8.6" text-anchor="start" fill="#262626" stroke="#262626" stroke-width="0.16" textLength="15.76" lengthAdjust="spacingAndGlyphs" >99.2</text>
<text x="281.10" y="490.30" font-size="8.8" text-anchor="end" fill="#262626" stroke="#262626" stroke-width="0.16" textLength="32.5" lengthAdjust="spacingAndGlyphs" >1:3-<tspan font-style="italic">insitu</tspan></text>
<line x1="283.7" y1="487.60" x2="286.0" y2="487.60" stroke="#5f5f5f" stroke-width="0.9"/>
<rect x="286.5" y="494.64" width="148.90" height="5.8" fill="#93ce9f"/>
<text x="438.30" y="500.24" font-size="8.6" text-anchor="start" fill="#262626" stroke="#262626" stroke-width="0.16" textLength="15.76" lengthAdjust="spacingAndGlyphs" >99.2</text>
<text x="281.10" y="500.24" font-size="8.8" text-anchor="end" fill="#262626" stroke="#262626" stroke-width="0.16" textLength="33.3" lengthAdjust="spacingAndGlyphs" >1:3-<tspan font-style="italic">exsitu</tspan></text>
<line x1="283.7" y1="497.54" x2="286.0" y2="497.54" stroke="#5f5f5f" stroke-width="0.9"/>
<rect x="286.5" y="504.58" width="147.70" height="5.8" fill="#70c182"/>
<text x="437.10" y="510.18" font-size="8.6" text-anchor="start" fill="#262626" stroke="#262626" stroke-width="0.16" textLength="15.76" lengthAdjust="spacingAndGlyphs" >98.4</text>
<text x="281.10" y="510.18" font-size="8.8" text-anchor="end" fill="#262626" stroke="#262626" stroke-width="0.16" textLength="23.4" lengthAdjust="spacingAndGlyphs" >1:3-NX</text>
<line x1="283.7" y1="507.48" x2="286.0" y2="507.48" stroke="#5f5f5f" stroke-width="0.9"/>
<rect x="286.5" y="514.53" width="145.90" height="5.8" fill="#fbe8c3"/>
<text x="435.30" y="520.13" font-size="8.6" text-anchor="start" fill="#262626" stroke="#262626" stroke-width="0.16" textLength="15.76" lengthAdjust="spacingAndGlyphs" >97.2</text>
<text x="281.10" y="520.13" font-size="8.8" text-anchor="end" fill="#262626" stroke="#262626" stroke-width="0.16" textLength="32.5" lengthAdjust="spacingAndGlyphs" >1:2-<tspan font-style="italic">insitu</tspan></text>
<line x1="283.7" y1="517.43" x2="286.0" y2="517.43" stroke="#5f5f5f" stroke-width="0.9"/>
<rect x="286.5" y="524.47" width="145.15" height="5.8" fill="#f4d591"/>
<text x="434.55" y="530.07" font-size="8.6" text-anchor="start" fill="#262626" stroke="#262626" stroke-width="0.16" textLength="15.76" lengthAdjust="spacingAndGlyphs" >96.7</text>
<text x="281.10" y="530.07" font-size="8.8" text-anchor="end" fill="#262626" stroke="#262626" stroke-width="0.16" textLength="33.3" lengthAdjust="spacingAndGlyphs" >1:2-<tspan font-style="italic">exsitu</tspan></text>
<line x1="283.7" y1="527.37" x2="286.0" y2="527.37" stroke="#5f5f5f" stroke-width="0.9"/>
<rect x="286.5" y="534.41" width="134.19" height="5.8" fill="#efc96d"/>
<text x="423.59" y="540.01" font-size="8.6" text-anchor="start" fill="#262626" stroke="#262626" stroke-width="0.16" textLength="15.76" lengthAdjust="spacingAndGlyphs" >89.4</text>
<text x="281.10" y="540.01" font-size="8.8" text-anchor="end" fill="#262626" stroke="#262626" stroke-width="0.16" textLength="23.4" lengthAdjust="spacingAndGlyphs" >1:2-NX</text>
<line x1="283.7" y1="537.31" x2="286.0" y2="537.31" stroke="#5f5f5f" stroke-width="0.9"/>
<rect x="286.5" y="544.35" width="116.33" height="5.8" fill="#c9d5e8"/>
<text x="405.73" y="549.95" font-size="8.6" text-anchor="start" fill="#262626" stroke="#262626" stroke-width="0.16" textLength="15.76" lengthAdjust="spacingAndGlyphs" >77.5</text>
<text x="281.10" y="549.95" font-size="8.8" text-anchor="end" fill="#262626" stroke="#262626" stroke-width="0.16" textLength="32.5" lengthAdjust="spacingAndGlyphs" >1:1-<tspan font-style="italic">insitu</tspan></text>
<line x1="283.7" y1="547.25" x2="286.0" y2="547.25" stroke="#5f5f5f" stroke-width="0.9"/>
<rect x="286.5" y="554.29" width="117.38" height="5.8" fill="#afc9e6"/>
<text x="406.78" y="559.89" font-size="8.6" text-anchor="start" fill="#262626" stroke="#262626" stroke-width="0.16" textLength="15.76" lengthAdjust="spacingAndGlyphs" >78.2</text>
<text x="281.10" y="559.89" font-size="8.8" text-anchor="end" fill="#262626" stroke="#262626" stroke-width="0.16" textLength="33.3" lengthAdjust="spacingAndGlyphs" >1:1-<tspan font-style="italic">exsitu</tspan></text>
<line x1="283.7" y1="557.19" x2="286.0" y2="557.19" stroke="#5f5f5f" stroke-width="0.9"/>
<rect x="286.5" y="564.24" width="104.77" height="5.8" fill="#76b4e2"/>
<text x="394.17" y="569.84" font-size="8.6" text-anchor="start" fill="#262626" stroke="#262626" stroke-width="0.16" textLength="15.76" lengthAdjust="spacingAndGlyphs" >69.8</text>
<text x="281.10" y="569.84" font-size="8.8" text-anchor="end" fill="#262626" stroke="#262626" stroke-width="0.16" textLength="23.4" lengthAdjust="spacingAndGlyphs" >1:1-NX</text>
<line x1="283.7" y1="567.14" x2="286.0" y2="567.14" stroke="#5f5f5f" stroke-width="0.9"/>
<rect x="286.5" y="574.18" width="108.67" height="5.8" fill="#f8c3b6"/>
<text x="398.07" y="579.78" font-size="8.6" text-anchor="start" fill="#262626" stroke="#262626" stroke-width="0.16" textLength="15.76" lengthAdjust="spacingAndGlyphs" >72.4</text>
<text x="281.10" y="579.78" font-size="8.8" text-anchor="end" fill="#262626" stroke="#262626" stroke-width="0.16" textLength="38.9" lengthAdjust="spacingAndGlyphs" >DMF-<tspan font-style="italic">insitu</tspan></text>
<line x1="283.7" y1="577.08" x2="286.0" y2="577.08" stroke="#5f5f5f" stroke-width="0.9"/>
<rect x="286.5" y="584.12" width="104.47" height="5.8" fill="#f4a897"/>
<text x="393.87" y="589.72" font-size="8.6" text-anchor="start" fill="#262626" stroke="#262626" stroke-width="0.16" textLength="15.76" lengthAdjust="spacingAndGlyphs" >69.6</text>
<text x="281.10" y="589.72" font-size="8.8" text-anchor="end" fill="#262626" stroke="#262626" stroke-width="0.16" textLength="40.3" lengthAdjust="spacingAndGlyphs" >DMF-<tspan font-style="italic">exsitu</tspan></text>
<line x1="283.7" y1="587.02" x2="286.0" y2="587.02" stroke="#5f5f5f" stroke-width="0.9"/>
<rect x="286.5" y="594.06" width="95.46" height="5.8" fill="#f29381"/>
<text x="384.86" y="599.66" font-size="8.6" text-anchor="start" fill="#262626" stroke="#262626" stroke-width="0.16" textLength="15.76" lengthAdjust="spacingAndGlyphs" >63.6</text>
<text x="281.10" y="599.66" font-size="8.8" text-anchor="end" fill="#262626" stroke="#262626" stroke-width="0.16" textLength="30.2" lengthAdjust="spacingAndGlyphs" >DMF-NX</text>
<line x1="283.7" y1="596.96" x2="286.0" y2="596.96" stroke="#5f5f5f" stroke-width="0.9"/>
<rect x="286.5" y="604.00" width="113.18" height="5.8" fill="#dc6466"/>
<text x="402.58" y="609.60" font-size="8.6" text-anchor="start" fill="#262626" stroke="#262626" stroke-width="0.16" textLength="15.76" lengthAdjust="spacingAndGlyphs" >75.4</text>
<text x="281.10" y="609.60" font-size="8.8" text-anchor="end" fill="#262626" stroke="#262626" stroke-width="0.16" textLength="14.1" lengthAdjust="spacingAndGlyphs" >PSU</text>
<line x1="283.7" y1="606.90" x2="286.0" y2="606.90" stroke="#5f5f5f" stroke-width="0.9"/>
<path d="M286.0,481.2V614.1H451.6" fill="none" stroke="#5f5f5f" stroke-width="1.2"/>
<line x1="286.00" y1="614.1" x2="286.00" y2="616.4" stroke="#5f5f5f" stroke-width="1"/>
<text x="286.00" y="626.90" font-size="9.0" text-anchor="middle" fill="#262626" stroke="#262626" stroke-width="0.16" >0</text>
<line x1="316.02" y1="614.1" x2="316.02" y2="616.4" stroke="#5f5f5f" stroke-width="1"/>
<text x="316.02" y="626.90" font-size="9.0" text-anchor="middle" fill="#262626" stroke="#262626" stroke-width="0.16" >20</text>
<line x1="346.04" y1="614.1" x2="346.04" y2="616.4" stroke="#5f5f5f" stroke-width="1"/>
<text x="346.04" y="626.90" font-size="9.0" text-anchor="middle" fill="#262626" stroke="#262626" stroke-width="0.16" >40</text>
<line x1="376.06" y1="614.1" x2="376.06" y2="616.4" stroke="#5f5f5f" stroke-width="1"/>
<text x="376.06" y="626.90" font-size="9.0" text-anchor="middle" fill="#262626" stroke="#262626" stroke-width="0.16" >60</text>
<line x1="406.08" y1="614.1" x2="406.08" y2="616.4" stroke="#5f5f5f" stroke-width="1"/>
<text x="406.08" y="626.90" font-size="9.0" text-anchor="middle" fill="#262626" stroke="#262626" stroke-width="0.16" >80</text>
<line x1="436.10" y1="614.1" x2="436.10" y2="616.4" stroke="#5f5f5f" stroke-width="1"/>
<text x="436.10" y="626.90" font-size="9.0" text-anchor="middle" fill="#262626" stroke="#262626" stroke-width="0.16" >100</text>
<line x1="301.01" y1="614.1" x2="301.01" y2="615.4" stroke="#5f5f5f" stroke-width="0.9"/>
<line x1="331.03" y1="614.1" x2="331.03" y2="615.4" stroke="#5f5f5f" stroke-width="0.9"/>
<line x1="361.05" y1="614.1" x2="361.05" y2="615.4" stroke="#5f5f5f" stroke-width="0.9"/>
<line x1="391.07" y1="614.1" x2="391.07" y2="615.4" stroke="#5f5f5f" stroke-width="0.9"/>
<line x1="421.09" y1="614.1" x2="421.09" y2="615.4" stroke="#5f5f5f" stroke-width="0.9"/>
<line x1="451.11" y1="614.1" x2="451.11" y2="615.4" stroke="#5f5f5f" stroke-width="0.9"/>
<text x="300.7" y="638.6" font-size="9.0" fill="#262626" stroke="#262626" stroke-width="0.16" textLength="117.4" lengthAdjust="spacingAndGlyphs">Rejection of 100 KDA PEG (%)</text>
<text x="0" y="0" font-size="8.0" fill="#262626" stroke="#262626" stroke-width="0.16" text-anchor="middle" textLength="124.1" lengthAdjust="spacingAndGlyphs" transform="translate(239.3,548.4) rotate(-90)">Uncoated Support Membranes</text>
<rect x="519.5" y="484.70" width="23.33" height="5.8" fill="#d3ead9"/>
<text x="545.73" y="490.30" font-size="8.6" text-anchor="start" fill="#262626" stroke="#262626" stroke-width="0.16" textLength="11.26" lengthAdjust="spacingAndGlyphs" >3.1</text>
<text x="514.30" y="490.30" font-size="8.8" text-anchor="end" fill="#262626" stroke="#262626" stroke-width="0.16" textLength="32.5" lengthAdjust="spacingAndGlyphs" >1:3-<tspan font-style="italic">insitu</tspan></text>
<line x1="516.7" y1="487.60" x2="519.0" y2="487.60" stroke="#5f5f5f" stroke-width="0.9"/>
<rect x="519.5" y="494.64" width="23.33" height="5.8" fill="#93ce9f"/>
<text x="545.73" y="500.24" font-size="8.6" text-anchor="start" fill="#262626" stroke="#262626" stroke-width="0.16" textLength="11.26" lengthAdjust="spacingAndGlyphs" >3.1</text>
<text x="514.30" y="500.24" font-size="8.8" text-anchor="end" fill="#262626" stroke="#262626" stroke-width="0.16" textLength="33.3" lengthAdjust="spacingAndGlyphs" >1:3-<tspan font-style="italic">exsitu</tspan></text>
<line x1="516.7" y1="497.54" x2="519.0" y2="497.54" stroke="#5f5f5f" stroke-width="0.9"/>
<rect x="519.5" y="504.58" width="25.59" height="5.8" fill="#70c182"/>
<text x="547.99" y="510.18" font-size="8.6" text-anchor="start" fill="#262626" stroke="#262626" stroke-width="0.16" textLength="11.26" lengthAdjust="spacingAndGlyphs" >3.4</text>
<text x="514.30" y="510.18" font-size="8.8" text-anchor="end" fill="#262626" stroke="#262626" stroke-width="0.16" textLength="23.4" lengthAdjust="spacingAndGlyphs" >1:3-NX</text>
<line x1="516.7" y1="507.48" x2="519.0" y2="507.48" stroke="#5f5f5f" stroke-width="0.9"/>
<rect x="519.5" y="514.53" width="87.29" height="5.8" fill="#fbe8c3"/>
<text x="609.69" y="520.13" font-size="8.6" text-anchor="start" fill="#262626" stroke="#262626" stroke-width="0.16" textLength="15.76" lengthAdjust="spacingAndGlyphs" >11.6</text>
<text x="514.30" y="520.13" font-size="8.8" text-anchor="end" fill="#262626" stroke="#262626" stroke-width="0.16" textLength="32.5" lengthAdjust="spacingAndGlyphs" >1:2-<tspan font-style="italic">insitu</tspan></text>
<line x1="516.7" y1="517.43" x2="519.0" y2="517.43" stroke="#5f5f5f" stroke-width="0.9"/>
<rect x="519.5" y="524.47" width="88.04" height="5.8" fill="#f4d591"/>
<text x="610.44" y="530.07" font-size="8.6" text-anchor="start" fill="#262626" stroke="#262626" stroke-width="0.16" textLength="15.76" lengthAdjust="spacingAndGlyphs" >11.7</text>
<text x="514.30" y="530.07" font-size="8.8" text-anchor="end" fill="#262626" stroke="#262626" stroke-width="0.16" textLength="33.3" lengthAdjust="spacingAndGlyphs" >1:2-<tspan font-style="italic">exsitu</tspan></text>
<line x1="516.7" y1="527.37" x2="519.0" y2="527.37" stroke="#5f5f5f" stroke-width="0.9"/>
<rect x="519.5" y="534.41" width="100.08" height="5.8" fill="#efc96d"/>
<text x="622.48" y="540.01" font-size="8.6" text-anchor="start" fill="#262626" stroke="#262626" stroke-width="0.16" textLength="15.76" lengthAdjust="spacingAndGlyphs" >13.3</text>
<text x="514.30" y="540.01" font-size="8.8" text-anchor="end" fill="#262626" stroke="#262626" stroke-width="0.16" textLength="23.4" lengthAdjust="spacingAndGlyphs" >1:2-NX</text>
<line x1="516.7" y1="537.31" x2="519.0" y2="537.31" stroke="#5f5f5f" stroke-width="0.9"/>
<rect x="519.5" y="544.35" width="117.39" height="5.8" fill="#c9d5e8"/>
<text x="639.79" y="549.95" font-size="8.6" text-anchor="start" fill="#262626" stroke="#262626" stroke-width="0.16" textLength="15.76" lengthAdjust="spacingAndGlyphs" >15.6</text>
<text x="514.30" y="549.95" font-size="8.8" text-anchor="end" fill="#262626" stroke="#262626" stroke-width="0.16" textLength="32.5" lengthAdjust="spacingAndGlyphs" >1:1-<tspan font-style="italic">insitu</tspan></text>
<line x1="516.7" y1="547.25" x2="519.0" y2="547.25" stroke="#5f5f5f" stroke-width="0.9"/>
<rect x="519.5" y="554.29" width="116.64" height="5.8" fill="#afc9e6"/>
<text x="639.04" y="559.89" font-size="8.6" text-anchor="start" fill="#262626" stroke="#262626" stroke-width="0.16" textLength="15.76" lengthAdjust="spacingAndGlyphs" >15.5</text>
<text x="514.30" y="559.89" font-size="8.8" text-anchor="end" fill="#262626" stroke="#262626" stroke-width="0.16" textLength="33.3" lengthAdjust="spacingAndGlyphs" >1:1-<tspan font-style="italic">exsitu</tspan></text>
<line x1="516.7" y1="557.19" x2="519.0" y2="557.19" stroke="#5f5f5f" stroke-width="0.9"/>
<rect x="519.5" y="564.24" width="129.43" height="5.8" fill="#76b4e2"/>
<text x="651.83" y="569.84" font-size="8.6" text-anchor="start" fill="#262626" stroke="#262626" stroke-width="0.16" textLength="15.76" lengthAdjust="spacingAndGlyphs" >17.2</text>
<text x="514.30" y="569.84" font-size="8.8" text-anchor="end" fill="#262626" stroke="#262626" stroke-width="0.16" textLength="23.4" lengthAdjust="spacingAndGlyphs" >1:1-NX</text>
<line x1="516.7" y1="567.14" x2="519.0" y2="567.14" stroke="#5f5f5f" stroke-width="0.9"/>
<rect x="519.5" y="574.18" width="124.92" height="5.8" fill="#f8c3b6"/>
<text x="647.31" y="579.78" font-size="8.6" text-anchor="start" fill="#262626" stroke="#262626" stroke-width="0.16" textLength="15.76" lengthAdjust="spacingAndGlyphs" >16.6</text>
<text x="514.30" y="579.78" font-size="8.8" text-anchor="end" fill="#262626" stroke="#262626" stroke-width="0.16" textLength="38.9" lengthAdjust="spacingAndGlyphs" >DMF-<tspan font-style="italic">insitu</tspan></text>
<line x1="516.7" y1="577.08" x2="519.0" y2="577.08" stroke="#5f5f5f" stroke-width="0.9"/>
<rect x="519.5" y="584.12" width="129.43" height="5.8" fill="#f4a897"/>
<text x="651.83" y="589.72" font-size="8.6" text-anchor="start" fill="#262626" stroke="#262626" stroke-width="0.16" textLength="15.76" lengthAdjust="spacingAndGlyphs" >17.2</text>
<text x="514.30" y="589.72" font-size="8.8" text-anchor="end" fill="#262626" stroke="#262626" stroke-width="0.16" textLength="40.3" lengthAdjust="spacingAndGlyphs" >DMF-<tspan font-style="italic">exsitu</tspan></text>
<line x1="516.7" y1="587.02" x2="519.0" y2="587.02" stroke="#5f5f5f" stroke-width="0.9"/>
<rect x="519.5" y="594.06" width="139.21" height="5.8" fill="#f29381"/>
<text x="661.61" y="599.66" font-size="8.6" text-anchor="start" fill="#262626" stroke="#262626" stroke-width="0.16" textLength="15.76" lengthAdjust="spacingAndGlyphs" >18.5</text>
<text x="514.30" y="599.66" font-size="8.8" text-anchor="end" fill="#262626" stroke="#262626" stroke-width="0.16" textLength="30.2" lengthAdjust="spacingAndGlyphs" >DMF-NX</text>
<line x1="516.7" y1="596.96" x2="519.0" y2="596.96" stroke="#5f5f5f" stroke-width="0.9"/>
<rect x="519.5" y="604.00" width="121.15" height="5.8" fill="#dc6466"/>
<text x="643.55" y="609.60" font-size="8.6" text-anchor="start" fill="#262626" stroke="#262626" stroke-width="0.16" textLength="15.76" lengthAdjust="spacingAndGlyphs" >16.1</text>
<text x="514.30" y="609.60" font-size="8.8" text-anchor="end" fill="#262626" stroke="#262626" stroke-width="0.16" textLength="14.1" lengthAdjust="spacingAndGlyphs" >PSU</text>
<line x1="516.7" y1="606.90" x2="519.0" y2="606.90" stroke="#5f5f5f" stroke-width="0.9"/>
<path d="M519.0,481.2V614.1H684.5" fill="none" stroke="#5f5f5f" stroke-width="1.2"/>
<line x1="519.00" y1="614.1" x2="519.00" y2="616.4" stroke="#5f5f5f" stroke-width="1"/>
<text x="519.00" y="626.90" font-size="9.0" text-anchor="middle" fill="#262626" stroke="#262626" stroke-width="0.16" >0</text>
<line x1="556.62" y1="614.1" x2="556.62" y2="616.4" stroke="#5f5f5f" stroke-width="1"/>
<text x="556.62" y="626.90" font-size="9.0" text-anchor="middle" fill="#262626" stroke="#262626" stroke-width="0.16" >5</text>
<line x1="594.25" y1="614.1" x2="594.25" y2="616.4" stroke="#5f5f5f" stroke-width="1"/>
<text x="594.25" y="626.90" font-size="9.0" text-anchor="middle" fill="#262626" stroke="#262626" stroke-width="0.16" >10</text>
<line x1="631.88" y1="614.1" x2="631.88" y2="616.4" stroke="#5f5f5f" stroke-width="1"/>
<text x="631.88" y="626.90" font-size="9.0" text-anchor="middle" fill="#262626" stroke="#262626" stroke-width="0.16" >15</text>
<line x1="669.50" y1="614.1" x2="669.50" y2="616.4" stroke="#5f5f5f" stroke-width="1"/>
<text x="669.50" y="626.90" font-size="9.0" text-anchor="middle" fill="#262626" stroke="#262626" stroke-width="0.16" >20</text>
<line x1="537.81" y1="614.1" x2="537.81" y2="615.4" stroke="#5f5f5f" stroke-width="0.9"/>
<line x1="575.44" y1="614.1" x2="575.44" y2="615.4" stroke="#5f5f5f" stroke-width="0.9"/>
<line x1="613.06" y1="614.1" x2="613.06" y2="615.4" stroke="#5f5f5f" stroke-width="0.9"/>
<line x1="650.69" y1="614.1" x2="650.69" y2="615.4" stroke="#5f5f5f" stroke-width="0.9"/>
<text x="552.3" y="638.6" font-size="9.0" fill="#262626" stroke="#262626" stroke-width="0.16" textLength="93.3" lengthAdjust="spacingAndGlyphs">Mean Pore Radius (nm)</text>
<text x="0" y="0" font-size="8.0" fill="#262626" stroke="#262626" stroke-width="0.16" text-anchor="middle" textLength="124.1" lengthAdjust="spacingAndGlyphs" transform="translate(472.8,548.4) rotate(-90)">Uncoated Support Membranes</text>
</svg></body></html>
